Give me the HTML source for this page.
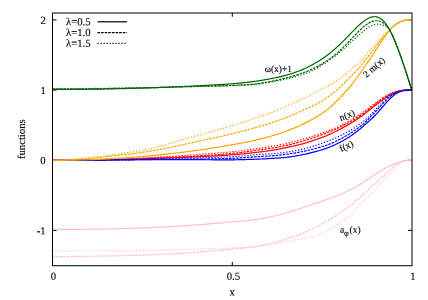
<!DOCTYPE html>
<html><head><meta charset="utf-8"><style>
html,body{margin:0;padding:0;background:#fff;}
svg{display:block;will-change:transform;}
text{font-family:"Liberation Serif",serif;fill:#000;stroke:#000;stroke-width:0.12px;text-rendering:geometricPrecision;}
</style></head><body>
<svg width="428" height="300" viewBox="0 0 428 300">
<rect width="428" height="300" fill="#fff"/>
<g stroke="#000" stroke-width="1" fill="none">
<path d="M52.5,19.9h4M412,19.9h-4M52.5,90.1h4M412,90.1h-4M52.5,160.3h4M412,160.3h-4M52.5,230.4h4M412,230.4h-4"/>
<path d="M232.3,265.7v-3.7M232.3,13v3.8"/>
</g>
<g fill="none" stroke-width="1.2" stroke-linecap="butt" stroke-linejoin="round">
<path d="M52.5,160.32 L53.5,160.32 L54.5,160.31 L55.5,160.31 L56.5,160.31 L57.5,160.31 L58.5,160.30 L59.5,160.30 L60.5,160.29 L61.5,160.29 L62.5,160.28 L63.5,160.28 L64.5,160.27 L65.5,160.27 L66.5,160.26 L67.5,160.26 L68.5,160.25 L69.5,160.24 L70.5,160.24 L71.5,160.23 L72.5,160.22 L73.5,160.21 L74.5,160.20 L75.5,160.20 L76.5,160.19 L77.5,160.18 L78.5,160.17 L79.5,160.16 L80.5,160.15 L81.5,160.14 L82.5,160.13 L83.5,160.11 L84.5,160.10 L85.5,160.09 L86.5,160.08 L87.5,160.07 L88.5,160.05 L89.5,160.04 L90.5,160.03 L91.5,160.01 L92.5,160.00 L93.5,159.98 L94.5,159.97 L95.5,159.95 L96.5,159.94 L97.5,159.92 L98.5,159.90 L99.5,159.89 L100.5,159.87 L101.5,159.85 L102.5,159.84 L103.5,159.82 L104.5,159.80 L105.5,159.78 L106.5,159.76 L107.5,159.74 L108.5,159.72 L109.5,159.70 L110.5,159.68 L111.5,159.66 L112.5,159.64 L113.5,159.62 L114.5,159.60 L115.5,159.57 L116.5,159.55 L117.5,159.53 L118.5,159.50 L119.5,159.48 L120.5,159.45 L121.5,159.43 L122.5,159.41 L123.5,159.38 L124.5,159.35 L125.5,159.33 L126.5,159.30 L127.5,159.27 L128.5,159.25 L129.5,159.22 L130.5,159.19 L131.5,159.16 L132.5,159.13 L133.5,159.10 L134.5,159.07 L135.5,159.04 L136.5,159.01 L137.5,158.98 L138.5,158.95 L139.5,158.92 L140.5,158.89 L141.5,158.86 L142.5,158.82 L143.5,158.79 L144.5,158.76 L145.5,158.72 L146.5,158.69 L147.5,158.65 L148.5,158.62 L149.5,158.58 L150.5,158.54 L151.5,158.51 L152.5,158.47 L153.5,158.44 L154.5,158.40 L155.5,158.37 L156.5,158.33 L157.5,158.30 L158.5,158.27 L159.5,158.23 L160.5,158.20 L161.5,158.17 L162.5,158.13 L163.5,158.10 L164.5,158.07 L165.5,158.03 L166.5,158.00 L167.5,157.97 L168.5,157.93 L169.5,157.90 L170.5,157.87 L171.5,157.83 L172.5,157.80 L173.5,157.76 L174.5,157.73 L175.5,157.70 L176.5,157.66 L177.5,157.63 L178.5,157.59 L179.5,157.55 L180.5,157.52 L181.5,157.48 L182.5,157.45 L183.5,157.41 L184.5,157.37 L185.5,157.33 L186.5,157.29 L187.5,157.25 L188.5,157.21 L189.5,157.17 L190.5,157.13 L191.5,157.09 L192.5,157.05 L193.5,157.01 L194.5,156.96 L195.5,156.92 L196.5,156.87 L197.5,156.83 L198.5,156.78 L199.5,156.73 L200.5,156.68 L201.5,156.64 L202.5,156.59 L203.5,156.54 L204.5,156.49 L205.5,156.44 L206.5,156.39 L207.5,156.34 L208.5,156.29 L209.5,156.25 L210.5,156.20 L211.5,156.14 L212.5,156.09 L213.5,156.04 L214.5,155.99 L215.5,155.94 L216.5,155.88 L217.5,155.83 L218.5,155.77 L219.5,155.71 L220.5,155.65 L221.5,155.59 L222.5,155.53 L223.5,155.47 L224.5,155.41 L225.5,155.34 L226.5,155.28 L227.5,155.21 L228.5,155.14 L229.5,155.06 L230.5,154.99 L231.5,154.91 L232.5,154.83 L233.5,154.75 L234.5,154.67 L235.5,154.58 L236.5,154.49 L237.5,154.39 L238.5,154.30 L239.5,154.20 L240.5,154.10 L241.5,154.00 L242.5,153.89 L243.5,153.79 L244.5,153.68 L245.5,153.58 L246.5,153.47 L247.5,153.36 L248.5,153.25 L249.5,153.14 L250.5,153.03 L251.5,152.92 L252.5,152.81 L253.5,152.70 L254.5,152.59 L255.5,152.48 L256.5,152.37 L257.5,152.26 L258.5,152.14 L259.5,152.02 L260.5,151.90 L261.5,151.78 L262.5,151.65 L263.5,151.52 L264.5,151.39 L265.5,151.25 L266.5,151.11 L267.5,150.97 L268.5,150.82 L269.5,150.68 L270.5,150.52 L271.5,150.37 L272.5,150.21 L273.5,150.05 L274.5,149.88 L275.5,149.71 L276.5,149.54 L277.5,149.36 L278.5,149.18 L279.5,148.99 L280.5,148.80 L281.5,148.61 L282.5,148.41 L283.5,148.21 L284.5,148.00 L285.5,147.79 L286.5,147.57 L287.5,147.35 L288.5,147.13 L289.5,146.90 L290.5,146.67 L291.5,146.44 L292.5,146.23 L293.5,146.02 L294.5,145.82 L295.5,145.61 L296.5,145.40 L297.5,145.18 L298.5,144.95 L299.5,144.71 L300.5,144.45 L301.5,144.19 L302.5,143.91 L303.5,143.63 L304.5,143.34 L305.5,143.04 L306.5,142.73 L307.5,142.42 L308.5,142.10 L309.5,141.78 L310.5,141.44 L311.5,141.11 L312.5,140.77 L313.5,140.42 L314.5,140.06 L315.5,139.71 L316.5,139.34 L317.5,138.98 L318.5,138.61 L319.5,138.23 L320.5,137.86 L321.5,137.51 L322.5,137.16 L323.5,136.82 L324.5,136.46 L325.5,136.07 L326.5,135.66 L327.5,135.23 L328.5,134.80 L329.5,134.35 L330.5,133.90 L331.5,133.44 L332.5,132.97 L333.5,132.49 L334.5,132.01 L335.5,131.51 L336.5,131.02 L337.5,130.51 L338.5,130.00 L339.5,129.48 L340.5,128.96 L341.5,128.43 L342.5,127.90 L343.5,127.36 L344.5,126.81 L345.5,126.25 L346.5,125.69 L347.5,125.12 L348.5,124.55 L349.5,123.96 L350.5,123.37 L351.5,122.77 L352.5,122.15 L353.5,121.52 L354.5,120.88 L355.5,120.22 L356.5,119.56 L357.5,118.89 L358.5,118.22 L359.5,117.53 L360.5,116.84 L361.5,116.14 L362.5,115.42 L363.5,114.68 L364.5,113.93 L365.5,113.16 L366.5,112.39 L367.5,111.61 L368.5,110.83 L369.5,110.04 L370.5,109.25 L371.5,108.46 L372.5,107.68 L373.5,106.89 L374.5,106.12 L375.5,105.35 L376.5,104.57 L377.5,103.79 L378.5,103.01 L379.5,102.24 L380.5,101.46 L381.5,100.70 L382.5,99.94 L383.5,99.20 L384.5,98.47 L385.5,97.77 L386.5,97.08 L387.5,96.42 L388.5,95.78 L389.5,95.17 L390.5,94.60 L391.5,94.05 L392.5,93.53 L393.5,93.04 L394.5,92.59 L395.5,92.18 L396.5,91.80 L397.5,91.47 L398.5,91.18 L399.5,90.92 L400.5,90.70 L401.5,90.52 L402.5,90.37 L403.5,90.24 L404.5,90.14 L405.5,90.06 L406.5,90.01 L407.5,89.97 L408.5,89.95 L409.5,89.94 L410.5,89.94 L411.5,89.95 L411.8,89.95" stroke="#ff0000"/>
<path d="M52.5,160.32 L53.5,160.32 L54.5,160.31 L55.5,160.31 L56.5,160.31 L57.5,160.30 L58.5,160.30 L59.5,160.30 L60.5,160.29 L61.5,160.29 L62.5,160.28 L63.5,160.28 L64.5,160.27 L65.5,160.26 L66.5,160.26 L67.5,160.25 L68.5,160.24 L69.5,160.24 L70.5,160.23 L71.5,160.22 L72.5,160.21 L73.5,160.20 L74.5,160.19 L75.5,160.18 L76.5,160.17 L77.5,160.16 L78.5,160.15 L79.5,160.14 L80.5,160.13 L81.5,160.12 L82.5,160.11 L83.5,160.09 L84.5,160.08 L85.5,160.07 L86.5,160.05 L87.5,160.04 L88.5,160.03 L89.5,160.01 L90.5,160.00 L91.5,159.98 L92.5,159.96 L93.5,159.95 L94.5,159.93 L95.5,159.91 L96.5,159.90 L97.5,159.88 L98.5,159.86 L99.5,159.84 L100.5,159.82 L101.5,159.81 L102.5,159.79 L103.5,159.77 L104.5,159.75 L105.5,159.72 L106.5,159.70 L107.5,159.68 L108.5,159.66 L109.5,159.64 L110.5,159.62 L111.5,159.59 L112.5,159.57 L113.5,159.54 L114.5,159.52 L115.5,159.49 L116.5,159.46 L117.5,159.44 L118.5,159.41 L119.5,159.38 L120.5,159.35 L121.5,159.32 L122.5,159.29 L123.5,159.26 L124.5,159.23 L125.5,159.19 L126.5,159.16 L127.5,159.12 L128.5,159.09 L129.5,159.05 L130.5,159.02 L131.5,158.98 L132.5,158.94 L133.5,158.91 L134.5,158.87 L135.5,158.83 L136.5,158.79 L137.5,158.75 L138.5,158.71 L139.5,158.67 L140.5,158.63 L141.5,158.58 L142.5,158.54 L143.5,158.50 L144.5,158.45 L145.5,158.41 L146.5,158.36 L147.5,158.32 L148.5,158.27 L149.5,158.23 L150.5,158.18 L151.5,158.13 L152.5,158.09 L153.5,158.04 L154.5,157.99 L155.5,157.95 L156.5,157.90 L157.5,157.86 L158.5,157.81 L159.5,157.77 L160.5,157.72 L161.5,157.68 L162.5,157.64 L163.5,157.59 L164.5,157.55 L165.5,157.50 L166.5,157.46 L167.5,157.42 L168.5,157.37 L169.5,157.33 L170.5,157.28 L171.5,157.24 L172.5,157.19 L173.5,157.15 L174.5,157.11 L175.5,157.06 L176.5,157.02 L177.5,156.97 L178.5,156.92 L179.5,156.88 L180.5,156.83 L181.5,156.78 L182.5,156.73 L183.5,156.69 L184.5,156.64 L185.5,156.59 L186.5,156.54 L187.5,156.49 L188.5,156.43 L189.5,156.38 L190.5,156.33 L191.5,156.28 L192.5,156.22 L193.5,156.17 L194.5,156.11 L195.5,156.05 L196.5,156.00 L197.5,155.94 L198.5,155.88 L199.5,155.82 L200.5,155.76 L201.5,155.69 L202.5,155.63 L203.5,155.57 L204.5,155.51 L205.5,155.45 L206.5,155.39 L207.5,155.32 L208.5,155.26 L209.5,155.20 L210.5,155.13 L211.5,155.07 L212.5,155.00 L213.5,154.94 L214.5,154.87 L215.5,154.80 L216.5,154.73 L217.5,154.66 L218.5,154.59 L219.5,154.52 L220.5,154.44 L221.5,154.37 L222.5,154.29 L223.5,154.21 L224.5,154.13 L225.5,154.05 L226.5,153.97 L227.5,153.88 L228.5,153.79 L229.5,153.71 L230.5,153.61 L231.5,153.52 L232.5,153.42 L233.5,153.31 L234.5,153.21 L235.5,153.09 L236.5,152.98 L237.5,152.86 L238.5,152.74 L239.5,152.61 L240.5,152.49 L241.5,152.36 L242.5,152.23 L243.5,152.10 L244.5,151.97 L245.5,151.83 L246.5,151.70 L247.5,151.56 L248.5,151.43 L249.5,151.29 L250.5,151.16 L251.5,151.02 L252.5,150.89 L253.5,150.76 L254.5,150.63 L255.5,150.50 L256.5,150.37 L257.5,150.24 L258.5,150.10 L259.5,149.97 L260.5,149.84 L261.5,149.70 L262.5,149.56 L263.5,149.42 L264.5,149.28 L265.5,149.13 L266.5,148.98 L267.5,148.83 L268.5,148.68 L269.5,148.52 L270.5,148.36 L271.5,148.20 L272.5,148.03 L273.5,147.86 L274.5,147.69 L275.5,147.51 L276.5,147.33 L277.5,147.15 L278.5,146.96 L279.5,146.77 L280.5,146.57 L281.5,146.37 L282.5,146.16 L283.5,145.96 L284.5,145.74 L285.5,145.53 L286.5,145.31 L287.5,145.08 L288.5,144.86 L289.5,144.62 L290.5,144.38 L291.5,144.14 L292.5,143.89 L293.5,143.64 L294.5,143.39 L295.5,143.12 L296.5,142.86 L297.5,142.58 L298.5,142.31 L299.5,142.02 L300.5,141.73 L301.5,141.44 L302.5,141.14 L303.5,140.83 L304.5,140.53 L305.5,140.21 L306.5,139.90 L307.5,139.58 L308.5,139.26 L309.5,138.94 L310.5,138.61 L311.5,138.28 L312.5,137.95 L313.5,137.62 L314.5,137.29 L315.5,136.95 L316.5,136.61 L317.5,136.26 L318.5,135.91 L319.5,135.55 L320.5,135.19 L321.5,134.83 L322.5,134.47 L323.5,134.12 L324.5,133.75 L325.5,133.37 L326.5,132.97 L327.5,132.57 L328.5,132.16 L329.5,131.75 L330.5,131.35 L331.5,130.94 L332.5,130.53 L333.5,130.11 L334.5,129.69 L335.5,129.25 L336.5,128.80 L337.5,128.33 L338.5,127.86 L339.5,127.37 L340.5,126.88 L341.5,126.38 L342.5,125.87 L343.5,125.36 L344.5,124.85 L345.5,124.33 L346.5,123.80 L347.5,123.27 L348.5,122.72 L349.5,122.17 L350.5,121.61 L351.5,121.04 L352.5,120.46 L353.5,119.86 L354.5,119.24 L355.5,118.62 L356.5,117.98 L357.5,117.34 L358.5,116.68 L359.5,116.01 L360.5,115.33 L361.5,114.62 L362.5,113.90 L363.5,113.17 L364.5,112.41 L365.5,111.64 L366.5,110.85 L367.5,110.05 L368.5,109.27 L369.5,108.49 L370.5,107.71 L371.5,106.93 L372.5,106.16 L373.5,105.39 L374.5,104.62 L375.5,103.86 L376.5,103.09 L377.5,102.33 L378.5,101.59 L379.5,100.86 L380.5,100.13 L381.5,99.42 L382.5,98.72 L383.5,98.04 L384.5,97.37 L385.5,96.72 L386.5,96.11 L387.5,95.52 L388.5,94.96 L389.5,94.44 L390.5,93.96 L391.5,93.53 L392.5,93.14 L393.5,92.75 L394.5,92.36 L395.5,92.00 L396.5,91.67 L397.5,91.38 L398.5,91.13 L399.5,90.91 L400.5,90.70 L401.5,90.52 L402.5,90.37 L403.5,90.24 L404.5,90.14 L405.5,90.06 L406.5,90.01 L407.5,89.97 L408.5,89.95 L409.5,89.94 L410.5,89.94 L411.5,89.95 L411.8,89.95" stroke="#ff0000" stroke-dasharray="2.6 1"/>
<path d="M52.5,160.32 L53.5,160.31 L54.5,160.30 L55.5,160.30 L56.5,160.29 L57.5,160.28 L58.5,160.27 L59.5,160.26 L60.5,160.25 L61.5,160.24 L62.5,160.23 L63.5,160.22 L64.5,160.20 L65.5,160.19 L66.5,160.18 L67.5,160.17 L68.5,160.15 L69.5,160.14 L70.5,160.13 L71.5,160.11 L72.5,160.10 L73.5,160.08 L74.5,160.06 L75.5,160.05 L76.5,160.03 L77.5,160.01 L78.5,160.00 L79.5,159.98 L80.5,159.96 L81.5,159.94 L82.5,159.92 L83.5,159.91 L84.5,159.89 L85.5,159.87 L86.5,159.85 L87.5,159.83 L88.5,159.80 L89.5,159.78 L90.5,159.76 L91.5,159.74 L92.5,159.72 L93.5,159.69 L94.5,159.67 L95.5,159.65 L96.5,159.62 L97.5,159.60 L98.5,159.57 L99.5,159.55 L100.5,159.52 L101.5,159.50 L102.5,159.47 L103.5,159.45 L104.5,159.42 L105.5,159.39 L106.5,159.37 L107.5,159.34 L108.5,159.31 L109.5,159.28 L110.5,159.25 L111.5,159.22 L112.5,159.19 L113.5,159.16 L114.5,159.13 L115.5,159.10 L116.5,159.07 L117.5,159.03 L118.5,159.00 L119.5,158.96 L120.5,158.93 L121.5,158.89 L122.5,158.85 L123.5,158.81 L124.5,158.78 L125.5,158.74 L126.5,158.70 L127.5,158.66 L128.5,158.61 L129.5,158.57 L130.5,158.53 L131.5,158.49 L132.5,158.44 L133.5,158.40 L134.5,158.35 L135.5,158.31 L136.5,158.26 L137.5,158.22 L138.5,158.17 L139.5,158.12 L140.5,158.07 L141.5,158.03 L142.5,157.98 L143.5,157.93 L144.5,157.88 L145.5,157.83 L146.5,157.78 L147.5,157.72 L148.5,157.67 L149.5,157.62 L150.5,157.57 L151.5,157.51 L152.5,157.46 L153.5,157.41 L154.5,157.35 L155.5,157.30 L156.5,157.24 L157.5,157.18 L158.5,157.13 L159.5,157.07 L160.5,157.01 L161.5,156.96 L162.5,156.90 L163.5,156.84 L164.5,156.78 L165.5,156.72 L166.5,156.66 L167.5,156.60 L168.5,156.54 L169.5,156.48 L170.5,156.42 L171.5,156.35 L172.5,156.29 L173.5,156.23 L174.5,156.17 L175.5,156.10 L176.5,156.04 L177.5,155.97 L178.5,155.91 L179.5,155.84 L180.5,155.77 L181.5,155.71 L182.5,155.64 L183.5,155.57 L184.5,155.50 L185.5,155.43 L186.5,155.36 L187.5,155.29 L188.5,155.22 L189.5,155.15 L190.5,155.07 L191.5,155.00 L192.5,154.93 L193.5,154.85 L194.5,154.78 L195.5,154.70 L196.5,154.62 L197.5,154.55 L198.5,154.47 L199.5,154.39 L200.5,154.31 L201.5,154.23 L202.5,154.16 L203.5,154.08 L204.5,154.01 L205.5,153.93 L206.5,153.86 L207.5,153.79 L208.5,153.71 L209.5,153.64 L210.5,153.57 L211.5,153.50 L212.5,153.42 L213.5,153.35 L214.5,153.28 L215.5,153.20 L216.5,153.13 L217.5,153.05 L218.5,152.97 L219.5,152.89 L220.5,152.81 L221.5,152.73 L222.5,152.65 L223.5,152.56 L224.5,152.48 L225.5,152.39 L226.5,152.30 L227.5,152.20 L228.5,152.11 L229.5,152.01 L230.5,151.91 L231.5,151.81 L232.5,151.70 L233.5,151.59 L234.5,151.48 L235.5,151.37 L236.5,151.25 L237.5,151.14 L238.5,151.02 L239.5,150.89 L240.5,150.77 L241.5,150.65 L242.5,150.52 L243.5,150.39 L244.5,150.26 L245.5,150.13 L246.5,150.00 L247.5,149.86 L248.5,149.73 L249.5,149.59 L250.5,149.45 L251.5,149.32 L252.5,149.18 L253.5,149.04 L254.5,148.89 L255.5,148.75 L256.5,148.61 L257.5,148.47 L258.5,148.32 L259.5,148.18 L260.5,148.04 L261.5,147.89 L262.5,147.75 L263.5,147.60 L264.5,147.45 L265.5,147.30 L266.5,147.15 L267.5,146.99 L268.5,146.83 L269.5,146.67 L270.5,146.51 L271.5,146.34 L272.5,146.17 L273.5,146.00 L274.5,145.82 L275.5,145.64 L276.5,145.46 L277.5,145.27 L278.5,145.08 L279.5,144.89 L280.5,144.69 L281.5,144.48 L282.5,144.28 L283.5,144.06 L284.5,143.85 L285.5,143.63 L286.5,143.40 L287.5,143.17 L288.5,142.94 L289.5,142.70 L290.5,142.45 L291.5,142.20 L292.5,141.95 L293.5,141.69 L294.5,141.42 L295.5,141.16 L296.5,140.88 L297.5,140.61 L298.5,140.32 L299.5,140.04 L300.5,139.75 L301.5,139.47 L302.5,139.18 L303.5,138.88 L304.5,138.59 L305.5,138.30 L306.5,138.00 L307.5,137.70 L308.5,137.40 L309.5,137.10 L310.5,136.80 L311.5,136.49 L312.5,136.19 L313.5,135.88 L314.5,135.57 L315.5,135.25 L316.5,134.93 L317.5,134.61 L318.5,134.28 L319.5,133.95 L320.5,133.61 L321.5,133.27 L322.5,132.95 L323.5,132.62 L324.5,132.27 L325.5,131.92 L326.5,131.54 L327.5,131.15 L328.5,130.76 L329.5,130.38 L330.5,129.99 L331.5,129.61 L332.5,129.22 L333.5,128.82 L334.5,128.41 L335.5,127.99 L336.5,127.55 L337.5,127.09 L338.5,126.62 L339.5,126.14 L340.5,125.64 L341.5,125.13 L342.5,124.62 L343.5,124.10 L344.5,123.58 L345.5,123.04 L346.5,122.50 L347.5,121.95 L348.5,121.38 L349.5,120.81 L350.5,120.23 L351.5,119.64 L352.5,119.03 L353.5,118.41 L354.5,117.78 L355.5,117.15 L356.5,116.51 L357.5,115.87 L358.5,115.22 L359.5,114.57 L360.5,113.92 L361.5,113.27 L362.5,112.61 L363.5,111.90 L364.5,111.16 L365.5,110.41 L366.5,109.66 L367.5,108.90 L368.5,108.14 L369.5,107.38 L370.5,106.62 L371.5,105.87 L372.5,105.12 L373.5,104.38 L374.5,103.64 L375.5,102.90 L376.5,102.17 L377.5,101.44 L378.5,100.73 L379.5,100.03 L380.5,99.35 L381.5,98.68 L382.5,98.02 L383.5,97.37 L384.5,96.74 L385.5,96.14 L386.5,95.56 L387.5,95.02 L388.5,94.51 L389.5,94.04 L390.5,93.62 L391.5,93.28 L392.5,92.98 L393.5,92.65 L394.5,92.30 L395.5,91.97 L396.5,91.66 L397.5,91.38 L398.5,91.13 L399.5,90.91 L400.5,90.70 L401.5,90.52 L402.5,90.37 L403.5,90.24 L404.5,90.14 L405.5,90.06 L406.5,90.01 L407.5,89.97 L408.5,89.95 L409.5,89.94 L410.5,89.94 L411.5,89.95 L411.8,89.95" stroke="#ff0000" stroke-dasharray="1.2 1.8"/>
<path d="M52.5,160.34 L53.5,160.34 L54.5,160.34 L55.5,160.33 L56.5,160.33 L57.5,160.33 L58.5,160.32 L59.5,160.32 L60.5,160.31 L61.5,160.31 L62.5,160.31 L63.5,160.30 L64.5,160.30 L65.5,160.29 L66.5,160.29 L67.5,160.28 L68.5,160.28 L69.5,160.27 L70.5,160.27 L71.5,160.26 L72.5,160.26 L73.5,160.25 L74.5,160.25 L75.5,160.24 L76.5,160.23 L77.5,160.23 L78.5,160.22 L79.5,160.22 L80.5,160.21 L81.5,160.20 L82.5,160.20 L83.5,160.19 L84.5,160.18 L85.5,160.18 L86.5,160.17 L87.5,160.16 L88.5,160.16 L89.5,160.15 L90.5,160.14 L91.5,160.14 L92.5,160.13 L93.5,160.12 L94.5,160.11 L95.5,160.11 L96.5,160.10 L97.5,160.09 L98.5,160.08 L99.5,160.08 L100.5,160.07 L101.5,160.06 L102.5,160.05 L103.5,160.05 L104.5,160.04 L105.5,160.03 L106.5,160.02 L107.5,160.01 L108.5,160.01 L109.5,160.00 L110.5,159.99 L111.5,159.98 L112.5,159.97 L113.5,159.96 L114.5,159.96 L115.5,159.95 L116.5,159.94 L117.5,159.93 L118.5,159.92 L119.5,159.91 L120.5,159.91 L121.5,159.90 L122.5,159.89 L123.5,159.88 L124.5,159.87 L125.5,159.86 L126.5,159.85 L127.5,159.84 L128.5,159.83 L129.5,159.83 L130.5,159.82 L131.5,159.81 L132.5,159.80 L133.5,159.79 L134.5,159.78 L135.5,159.77 L136.5,159.76 L137.5,159.75 L138.5,159.74 L139.5,159.74 L140.5,159.73 L141.5,159.72 L142.5,159.71 L143.5,159.70 L144.5,159.69 L145.5,159.68 L146.5,159.67 L147.5,159.66 L148.5,159.65 L149.5,159.64 L150.5,159.63 L151.5,159.63 L152.5,159.62 L153.5,159.61 L154.5,159.61 L155.5,159.60 L156.5,159.60 L157.5,159.59 L158.5,159.59 L159.5,159.59 L160.5,159.58 L161.5,159.58 L162.5,159.58 L163.5,159.58 L164.5,159.58 L165.5,159.58 L166.5,159.58 L167.5,159.58 L168.5,159.58 L169.5,159.59 L170.5,159.59 L171.5,159.59 L172.5,159.59 L173.5,159.60 L174.5,159.60 L175.5,159.60 L176.5,159.61 L177.5,159.61 L178.5,159.62 L179.5,159.62 L180.5,159.63 L181.5,159.63 L182.5,159.64 L183.5,159.64 L184.5,159.65 L185.5,159.65 L186.5,159.66 L187.5,159.66 L188.5,159.66 L189.5,159.67 L190.5,159.67 L191.5,159.68 L192.5,159.68 L193.5,159.69 L194.5,159.69 L195.5,159.70 L196.5,159.70 L197.5,159.70 L198.5,159.71 L199.5,159.71 L200.5,159.71 L201.5,159.72 L202.5,159.72 L203.5,159.72 L204.5,159.73 L205.5,159.73 L206.5,159.74 L207.5,159.75 L208.5,159.75 L209.5,159.76 L210.5,159.77 L211.5,159.77 L212.5,159.78 L213.5,159.79 L214.5,159.79 L215.5,159.80 L216.5,159.80 L217.5,159.81 L218.5,159.81 L219.5,159.82 L220.5,159.82 L221.5,159.83 L222.5,159.83 L223.5,159.83 L224.5,159.83 L225.5,159.83 L226.5,159.83 L227.5,159.83 L228.5,159.83 L229.5,159.83 L230.5,159.82 L231.5,159.81 L232.5,159.80 L233.5,159.79 L234.5,159.78 L235.5,159.77 L236.5,159.75 L237.5,159.73 L238.5,159.71 L239.5,159.69 L240.5,159.67 L241.5,159.65 L242.5,159.62 L243.5,159.60 L244.5,159.57 L245.5,159.54 L246.5,159.51 L247.5,159.48 L248.5,159.45 L249.5,159.42 L250.5,159.39 L251.5,159.36 L252.5,159.33 L253.5,159.29 L254.5,159.26 L255.5,159.22 L256.5,159.19 L257.5,159.15 L258.5,159.11 L259.5,159.07 L260.5,159.02 L261.5,158.98 L262.5,158.93 L263.5,158.88 L264.5,158.83 L265.5,158.78 L266.5,158.72 L267.5,158.67 L268.5,158.61 L269.5,158.55 L270.5,158.49 L271.5,158.43 L272.5,158.37 L273.5,158.31 L274.5,158.25 L275.5,158.19 L276.5,158.12 L277.5,158.05 L278.5,157.98 L279.5,157.91 L280.5,157.83 L281.5,157.75 L282.5,157.66 L283.5,157.57 L284.5,157.48 L285.5,157.38 L286.5,157.27 L287.5,157.16 L288.5,157.04 L289.5,156.92 L290.5,156.79 L291.5,156.65 L292.5,156.50 L293.5,156.34 L294.5,156.18 L295.5,156.01 L296.5,155.83 L297.5,155.65 L298.5,155.47 L299.5,155.27 L300.5,155.08 L301.5,154.88 L302.5,154.67 L303.5,154.46 L304.5,154.25 L305.5,154.04 L306.5,153.82 L307.5,153.60 L308.5,153.37 L309.5,153.14 L310.5,152.90 L311.5,152.66 L312.5,152.41 L313.5,152.16 L314.5,151.90 L315.5,151.63 L316.5,151.36 L317.5,151.08 L318.5,150.79 L319.5,150.50 L320.5,150.20 L321.5,149.89 L322.5,149.58 L323.5,149.25 L324.5,148.92 L325.5,148.58 L326.5,148.23 L327.5,147.87 L328.5,147.49 L329.5,147.10 L330.5,146.71 L331.5,146.29 L332.5,145.87 L333.5,145.44 L334.5,144.99 L335.5,144.53 L336.5,144.05 L337.5,143.57 L338.5,143.07 L339.5,142.56 L340.5,142.04 L341.5,141.50 L342.5,140.96 L343.5,140.40 L344.5,139.82 L345.5,139.24 L346.5,138.64 L347.5,138.02 L348.5,137.39 L349.5,136.74 L350.5,136.08 L351.5,135.40 L352.5,134.71 L353.5,134.00 L354.5,133.28 L355.5,132.54 L356.5,131.78 L357.5,131.01 L358.5,130.22 L359.5,129.41 L360.5,128.59 L361.5,127.75 L362.5,126.89 L363.5,126.03 L364.5,125.15 L365.5,124.25 L366.5,123.35 L367.5,122.45 L368.5,121.56 L369.5,120.67 L370.5,119.77 L371.5,118.86 L372.5,117.94 L373.5,116.98 L374.5,116.00 L375.5,114.98 L376.5,113.92 L377.5,112.82 L378.5,111.67 L379.5,110.51 L380.5,109.34 L381.5,108.17 L382.5,107.00 L383.5,105.84 L384.5,104.69 L385.5,103.56 L386.5,102.44 L387.5,101.36 L388.5,100.30 L389.5,99.27 L390.5,98.29 L391.5,97.35 L392.5,96.45 L393.5,95.61 L394.5,94.82 L395.5,94.10 L396.5,93.44 L397.5,92.85 L398.5,92.33 L399.5,91.88 L400.5,91.49 L401.5,91.16 L402.5,90.88 L403.5,90.65 L404.5,90.46 L405.5,90.31 L406.5,90.20 L407.5,90.11 L408.5,90.05 L409.5,90.01 L410.5,89.98 L411.5,89.97 L411.8,89.97" stroke="#0000ff"/>
<path d="M52.5,160.34 L53.5,160.34 L54.5,160.34 L55.5,160.33 L56.5,160.33 L57.5,160.33 L58.5,160.32 L59.5,160.32 L60.5,160.31 L61.5,160.31 L62.5,160.31 L63.5,160.30 L64.5,160.30 L65.5,160.29 L66.5,160.29 L67.5,160.28 L68.5,160.28 L69.5,160.27 L70.5,160.27 L71.5,160.26 L72.5,160.26 L73.5,160.25 L74.5,160.25 L75.5,160.24 L76.5,160.23 L77.5,160.23 L78.5,160.22 L79.5,160.22 L80.5,160.21 L81.5,160.20 L82.5,160.20 L83.5,160.19 L84.5,160.18 L85.5,160.18 L86.5,160.17 L87.5,160.16 L88.5,160.16 L89.5,160.15 L90.5,160.14 L91.5,160.14 L92.5,160.13 L93.5,160.12 L94.5,160.11 L95.5,160.11 L96.5,160.10 L97.5,160.09 L98.5,160.08 L99.5,160.08 L100.5,160.07 L101.5,160.06 L102.5,160.05 L103.5,160.05 L104.5,160.04 L105.5,160.03 L106.5,160.02 L107.5,160.01 L108.5,160.01 L109.5,160.00 L110.5,159.99 L111.5,159.98 L112.5,159.97 L113.5,159.96 L114.5,159.96 L115.5,159.95 L116.5,159.94 L117.5,159.93 L118.5,159.92 L119.5,159.91 L120.5,159.90 L121.5,159.89 L122.5,159.88 L123.5,159.87 L124.5,159.86 L125.5,159.84 L126.5,159.83 L127.5,159.82 L128.5,159.81 L129.5,159.80 L130.5,159.79 L131.5,159.78 L132.5,159.76 L133.5,159.75 L134.5,159.74 L135.5,159.73 L136.5,159.71 L137.5,159.70 L138.5,159.69 L139.5,159.68 L140.5,159.66 L141.5,159.65 L142.5,159.64 L143.5,159.62 L144.5,159.61 L145.5,159.60 L146.5,159.58 L147.5,159.57 L148.5,159.56 L149.5,159.54 L150.5,159.53 L151.5,159.52 L152.5,159.50 L153.5,159.49 L154.5,159.48 L155.5,159.47 L156.5,159.46 L157.5,159.45 L158.5,159.44 L159.5,159.43 L160.5,159.43 L161.5,159.42 L162.5,159.41 L163.5,159.41 L164.5,159.40 L165.5,159.40 L166.5,159.39 L167.5,159.39 L168.5,159.38 L169.5,159.38 L170.5,159.37 L171.5,159.37 L172.5,159.37 L173.5,159.36 L174.5,159.36 L175.5,159.35 L176.5,159.35 L177.5,159.34 L178.5,159.33 L179.5,159.33 L180.5,159.32 L181.5,159.31 L182.5,159.31 L183.5,159.30 L184.5,159.29 L185.5,159.28 L186.5,159.27 L187.5,159.26 L188.5,159.25 L189.5,159.24 L190.5,159.22 L191.5,159.21 L192.5,159.20 L193.5,159.18 L194.5,159.17 L195.5,159.16 L196.5,159.14 L197.5,159.12 L198.5,159.11 L199.5,159.09 L200.5,159.07 L201.5,159.05 L202.5,159.04 L203.5,159.02 L204.5,159.00 L205.5,158.98 L206.5,158.97 L207.5,158.95 L208.5,158.93 L209.5,158.92 L210.5,158.90 L211.5,158.88 L212.5,158.86 L213.5,158.85 L214.5,158.83 L215.5,158.81 L216.5,158.79 L217.5,158.77 L218.5,158.75 L219.5,158.73 L220.5,158.71 L221.5,158.68 L222.5,158.66 L223.5,158.63 L224.5,158.61 L225.5,158.58 L226.5,158.55 L227.5,158.53 L228.5,158.50 L229.5,158.47 L230.5,158.43 L231.5,158.39 L232.5,158.35 L233.5,158.31 L234.5,158.25 L235.5,158.20 L236.5,158.14 L237.5,158.08 L238.5,158.01 L239.5,157.94 L240.5,157.87 L241.5,157.80 L242.5,157.73 L243.5,157.65 L244.5,157.58 L245.5,157.50 L246.5,157.42 L247.5,157.35 L248.5,157.27 L249.5,157.19 L250.5,157.12 L251.5,157.05 L252.5,156.97 L253.5,156.90 L254.5,156.84 L255.5,156.77 L256.5,156.71 L257.5,156.65 L258.5,156.60 L259.5,156.54 L260.5,156.49 L261.5,156.44 L262.5,156.39 L263.5,156.34 L264.5,156.29 L265.5,156.24 L266.5,156.18 L267.5,156.12 L268.5,156.05 L269.5,155.99 L270.5,155.91 L271.5,155.84 L272.5,155.76 L273.5,155.67 L274.5,155.59 L275.5,155.50 L276.5,155.40 L277.5,155.31 L278.5,155.21 L279.5,155.10 L280.5,155.00 L281.5,154.88 L282.5,154.77 L283.5,154.65 L284.5,154.52 L285.5,154.39 L286.5,154.26 L287.5,154.12 L288.5,153.98 L289.5,153.84 L290.5,153.68 L291.5,153.53 L292.5,153.37 L293.5,153.21 L294.5,153.04 L295.5,152.87 L296.5,152.69 L297.5,152.51 L298.5,152.33 L299.5,152.14 L300.5,151.95 L301.5,151.75 L302.5,151.55 L303.5,151.34 L304.5,151.13 L305.5,150.92 L306.5,150.70 L307.5,150.48 L308.5,150.25 L309.5,150.01 L310.5,149.77 L311.5,149.52 L312.5,149.27 L313.5,149.01 L314.5,148.75 L315.5,148.49 L316.5,148.21 L317.5,147.94 L318.5,147.65 L319.5,147.37 L320.5,147.08 L321.5,146.79 L322.5,146.50 L323.5,146.20 L324.5,145.90 L325.5,145.57 L326.5,145.23 L327.5,144.87 L328.5,144.51 L329.5,144.13 L330.5,143.74 L331.5,143.34 L332.5,142.92 L333.5,142.49 L334.5,142.04 L335.5,141.57 L336.5,141.06 L337.5,140.53 L338.5,139.99 L339.5,139.47 L340.5,138.97 L341.5,138.45 L342.5,137.91 L343.5,137.35 L344.5,136.79 L345.5,136.22 L346.5,135.64 L347.5,135.05 L348.5,134.45 L349.5,133.83 L350.5,133.20 L351.5,132.56 L352.5,131.90 L353.5,131.24 L354.5,130.56 L355.5,129.87 L356.5,129.17 L357.5,128.45 L358.5,127.71 L359.5,126.96 L360.5,126.20 L361.5,125.45 L362.5,124.69 L363.5,123.86 L364.5,122.96 L365.5,122.02 L366.5,121.05 L367.5,120.05 L368.5,119.03 L369.5,118.00 L370.5,116.95 L371.5,115.90 L372.5,114.83 L373.5,113.76 L374.5,112.70 L375.5,111.64 L376.5,110.57 L377.5,109.48 L378.5,108.39 L379.5,107.29 L380.5,106.20 L381.5,105.11 L382.5,104.03 L383.5,102.96 L384.5,101.91 L385.5,100.87 L386.5,99.85 L387.5,98.86 L388.5,97.91 L389.5,97.01 L390.5,96.18 L391.5,95.44 L392.5,94.77 L393.5,94.15 L394.5,93.55 L395.5,93.02 L396.5,92.56 L397.5,92.18 L398.5,91.95 L399.5,91.77 L400.5,91.49 L401.5,91.16 L402.5,90.88 L403.5,90.65 L404.5,90.46 L405.5,90.31 L406.5,90.20 L407.5,90.11 L408.5,90.05 L409.5,90.01 L410.5,89.98 L411.5,89.97 L411.8,89.97" stroke="#0000ff" stroke-dasharray="2.6 1"/>
<path d="M52.5,160.34 L53.5,160.33 L54.5,160.33 L55.5,160.32 L56.5,160.31 L57.5,160.30 L58.5,160.29 L59.5,160.28 L60.5,160.27 L61.5,160.26 L62.5,160.25 L63.5,160.24 L64.5,160.23 L65.5,160.22 L66.5,160.21 L67.5,160.20 L68.5,160.20 L69.5,160.19 L70.5,160.18 L71.5,160.17 L72.5,160.16 L73.5,160.15 L74.5,160.14 L75.5,160.13 L76.5,160.12 L77.5,160.11 L78.5,160.10 L79.5,160.09 L80.5,160.08 L81.5,160.07 L82.5,160.06 L83.5,160.06 L84.5,160.05 L85.5,160.04 L86.5,160.03 L87.5,160.02 L88.5,160.01 L89.5,160.00 L90.5,159.99 L91.5,159.98 L92.5,159.97 L93.5,159.96 L94.5,159.95 L95.5,159.94 L96.5,159.93 L97.5,159.93 L98.5,159.92 L99.5,159.91 L100.5,159.90 L101.5,159.89 L102.5,159.88 L103.5,159.87 L104.5,159.86 L105.5,159.85 L106.5,159.84 L107.5,159.83 L108.5,159.82 L109.5,159.81 L110.5,159.80 L111.5,159.79 L112.5,159.78 L113.5,159.77 L114.5,159.76 L115.5,159.75 L116.5,159.74 L117.5,159.73 L118.5,159.71 L119.5,159.70 L120.5,159.69 L121.5,159.67 L122.5,159.66 L123.5,159.64 L124.5,159.63 L125.5,159.61 L126.5,159.60 L127.5,159.58 L128.5,159.56 L129.5,159.55 L130.5,159.53 L131.5,159.51 L132.5,159.49 L133.5,159.48 L134.5,159.46 L135.5,159.44 L136.5,159.42 L137.5,159.40 L138.5,159.38 L139.5,159.36 L140.5,159.34 L141.5,159.32 L142.5,159.30 L143.5,159.28 L144.5,159.26 L145.5,159.24 L146.5,159.22 L147.5,159.19 L148.5,159.17 L149.5,159.15 L150.5,159.13 L151.5,159.11 L152.5,159.08 L153.5,159.06 L154.5,159.04 L155.5,159.02 L156.5,159.00 L157.5,158.97 L158.5,158.95 L159.5,158.93 L160.5,158.91 L161.5,158.89 L162.5,158.87 L163.5,158.85 L164.5,158.83 L165.5,158.81 L166.5,158.79 L167.5,158.77 L168.5,158.75 L169.5,158.73 L170.5,158.71 L171.5,158.68 L172.5,158.66 L173.5,158.64 L174.5,158.62 L175.5,158.60 L176.5,158.58 L177.5,158.55 L178.5,158.53 L179.5,158.51 L180.5,158.48 L181.5,158.46 L182.5,158.43 L183.5,158.40 L184.5,158.38 L185.5,158.35 L186.5,158.32 L187.5,158.30 L188.5,158.27 L189.5,158.24 L190.5,158.21 L191.5,158.18 L192.5,158.15 L193.5,158.12 L194.5,158.09 L195.5,158.06 L196.5,158.03 L197.5,157.99 L198.5,157.96 L199.5,157.93 L200.5,157.89 L201.5,157.86 L202.5,157.83 L203.5,157.80 L204.5,157.77 L205.5,157.73 L206.5,157.70 L207.5,157.67 L208.5,157.64 L209.5,157.61 L210.5,157.58 L211.5,157.55 L212.5,157.52 L213.5,157.49 L214.5,157.46 L215.5,157.43 L216.5,157.39 L217.5,157.36 L218.5,157.33 L219.5,157.29 L220.5,157.26 L221.5,157.22 L222.5,157.18 L223.5,157.14 L224.5,157.10 L225.5,157.06 L226.5,157.01 L227.5,156.97 L228.5,156.92 L229.5,156.87 L230.5,156.82 L231.5,156.77 L232.5,156.71 L233.5,156.65 L234.5,156.58 L235.5,156.51 L236.5,156.44 L237.5,156.37 L238.5,156.29 L239.5,156.21 L240.5,156.13 L241.5,156.04 L242.5,155.95 L243.5,155.86 L244.5,155.77 L245.5,155.68 L246.5,155.59 L247.5,155.49 L248.5,155.40 L249.5,155.30 L250.5,155.21 L251.5,155.11 L252.5,155.01 L253.5,154.92 L254.5,154.82 L255.5,154.72 L256.5,154.64 L257.5,154.57 L258.5,154.50 L259.5,154.45 L260.5,154.40 L261.5,154.36 L262.5,154.32 L263.5,154.28 L264.5,154.24 L265.5,154.19 L266.5,154.15 L267.5,154.10 L268.5,154.04 L269.5,153.97 L270.5,153.89 L271.5,153.81 L272.5,153.73 L273.5,153.64 L274.5,153.55 L275.5,153.45 L276.5,153.35 L277.5,153.25 L278.5,153.14 L279.5,153.03 L280.5,152.92 L281.5,152.80 L282.5,152.68 L283.5,152.55 L284.5,152.42 L285.5,152.28 L286.5,152.14 L287.5,151.99 L288.5,151.84 L289.5,151.68 L290.5,151.52 L291.5,151.36 L292.5,151.19 L293.5,151.01 L294.5,150.83 L295.5,150.65 L296.5,150.46 L297.5,150.27 L298.5,150.07 L299.5,149.87 L300.5,149.66 L301.5,149.44 L302.5,149.22 L303.5,148.98 L304.5,148.74 L305.5,148.50 L306.5,148.24 L307.5,147.98 L308.5,147.70 L309.5,147.41 L310.5,147.10 L311.5,146.79 L312.5,146.47 L313.5,146.15 L314.5,145.82 L315.5,145.48 L316.5,145.15 L317.5,144.81 L318.5,144.48 L319.5,144.15 L320.5,143.80 L321.5,143.46 L322.5,143.11 L323.5,142.75 L324.5,142.38 L325.5,142.01 L326.5,141.64 L327.5,141.26 L328.5,140.89 L329.5,140.50 L330.5,140.11 L331.5,139.72 L332.5,139.31 L333.5,138.89 L334.5,138.46 L335.5,138.02 L336.5,137.55 L337.5,137.07 L338.5,136.58 L339.5,136.09 L340.5,135.60 L341.5,135.10 L342.5,134.61 L343.5,134.11 L344.5,133.60 L345.5,133.08 L346.5,132.55 L347.5,132.00 L348.5,131.44 L349.5,130.86 L350.5,130.27 L351.5,129.65 L352.5,129.01 L353.5,128.36 L354.5,127.69 L355.5,127.01 L356.5,126.32 L357.5,125.61 L358.5,124.89 L359.5,124.17 L360.5,123.45 L361.5,122.77 L362.5,122.09 L363.5,121.33 L364.5,120.50 L365.5,119.63 L366.5,118.72 L367.5,117.79 L368.5,116.83 L369.5,115.85 L370.5,114.85 L371.5,113.83 L372.5,112.80 L373.5,111.77 L374.5,110.73 L375.5,109.70 L376.5,108.64 L377.5,107.58 L378.5,106.51 L379.5,105.44 L380.5,104.38 L381.5,103.33 L382.5,102.31 L383.5,101.30 L384.5,100.31 L385.5,99.34 L386.5,98.40 L387.5,97.49 L388.5,96.62 L389.5,95.81 L390.5,95.09 L391.5,94.48 L392.5,93.96 L393.5,93.46 L394.5,92.97 L395.5,92.54 L396.5,92.17 L397.5,91.90 L398.5,91.80 L399.5,91.72 L400.5,91.49 L401.5,91.16 L402.5,90.88 L403.5,90.65 L404.5,90.46 L405.5,90.31 L406.5,90.20 L407.5,90.11 L408.5,90.05 L409.5,90.01 L410.5,89.98 L411.5,89.97 L411.8,89.97" stroke="#0000ff" stroke-dasharray="1.2 1.8"/>
<path d="M52.5,160.36 L53.5,160.36 L54.5,160.36 L55.5,160.35 L56.5,160.35 L57.5,160.34 L58.5,160.34 L59.5,160.33 L60.5,160.32 L61.5,160.32 L62.5,160.31 L63.5,160.30 L64.5,160.28 L65.5,160.27 L66.5,160.26 L67.5,160.25 L68.5,160.23 L69.5,160.21 L70.5,160.20 L71.5,160.18 L72.5,160.16 L73.5,160.14 L74.5,160.12 L75.5,160.10 L76.5,160.08 L77.5,160.05 L78.5,160.03 L79.5,160.00 L80.5,159.98 L81.5,159.95 L82.5,159.92 L83.5,159.89 L84.5,159.86 L85.5,159.83 L86.5,159.80 L87.5,159.77 L88.5,159.74 L89.5,159.70 L90.5,159.66 L91.5,159.63 L92.5,159.59 L93.5,159.55 L94.5,159.51 L95.5,159.47 L96.5,159.43 L97.5,159.39 L98.5,159.35 L99.5,159.30 L100.5,159.26 L101.5,159.21 L102.5,159.17 L103.5,159.12 L104.5,159.07 L105.5,159.02 L106.5,158.97 L107.5,158.92 L108.5,158.86 L109.5,158.81 L110.5,158.76 L111.5,158.70 L112.5,158.64 L113.5,158.59 L114.5,158.53 L115.5,158.47 L116.5,158.41 L117.5,158.35 L118.5,158.29 L119.5,158.22 L120.5,158.16 L121.5,158.09 L122.5,158.03 L123.5,157.96 L124.5,157.89 L125.5,157.82 L126.5,157.75 L127.5,157.68 L128.5,157.61 L129.5,157.54 L130.5,157.46 L131.5,157.39 L132.5,157.31 L133.5,157.24 L134.5,157.16 L135.5,157.08 L136.5,157.00 L137.5,156.92 L138.5,156.84 L139.5,156.76 L140.5,156.67 L141.5,156.59 L142.5,156.50 L143.5,156.42 L144.5,156.33 L145.5,156.24 L146.5,156.15 L147.5,156.06 L148.5,155.97 L149.5,155.88 L150.5,155.78 L151.5,155.69 L152.5,155.60 L153.5,155.50 L154.5,155.40 L155.5,155.30 L156.5,155.20 L157.5,155.10 L158.5,155.00 L159.5,154.90 L160.5,154.80 L161.5,154.69 L162.5,154.59 L163.5,154.48 L164.5,154.37 L165.5,154.27 L166.5,154.16 L167.5,154.05 L168.5,153.94 L169.5,153.82 L170.5,153.71 L171.5,153.60 L172.5,153.48 L173.5,153.37 L174.5,153.25 L175.5,153.13 L176.5,153.01 L177.5,152.89 L178.5,152.77 L179.5,152.65 L180.5,152.52 L181.5,152.40 L182.5,152.28 L183.5,152.15 L184.5,152.02 L185.5,151.89 L186.5,151.76 L187.5,151.63 L188.5,151.50 L189.5,151.37 L190.5,151.24 L191.5,151.10 L192.5,150.97 L193.5,150.83 L194.5,150.69 L195.5,150.56 L196.5,150.42 L197.5,150.28 L198.5,150.13 L199.5,149.99 L200.5,149.85 L201.5,149.70 L202.5,149.56 L203.5,149.41 L204.5,149.26 L205.5,149.12 L206.5,148.97 L207.5,148.82 L208.5,148.66 L209.5,148.51 L210.5,148.36 L211.5,148.20 L212.5,148.05 L213.5,147.89 L214.5,147.73 L215.5,147.57 L216.5,147.41 L217.5,147.25 L218.5,147.09 L219.5,146.93 L220.5,146.76 L221.5,146.60 L222.5,146.43 L223.5,146.27 L224.5,146.10 L225.5,145.93 L226.5,145.76 L227.5,145.59 L228.5,145.41 L229.5,145.24 L230.5,145.07 L231.5,144.89 L232.5,144.71 L233.5,144.54 L234.5,144.36 L235.5,144.18 L236.5,143.99 L237.5,143.81 L238.5,143.62 L239.5,143.44 L240.5,143.25 L241.5,143.06 L242.5,142.86 L243.5,142.67 L244.5,142.47 L245.5,142.27 L246.5,142.07 L247.5,141.86 L248.5,141.66 L249.5,141.45 L250.5,141.24 L251.5,141.02 L252.5,140.80 L253.5,140.58 L254.5,140.36 L255.5,140.13 L256.5,139.90 L257.5,139.67 L258.5,139.43 L259.5,139.19 L260.5,138.94 L261.5,138.70 L262.5,138.45 L263.5,138.19 L264.5,137.93 L265.5,137.67 L266.5,137.40 L267.5,137.13 L268.5,136.85 L269.5,136.57 L270.5,136.29 L271.5,136.00 L272.5,135.71 L273.5,135.41 L274.5,135.11 L275.5,134.80 L276.5,134.48 L277.5,134.17 L278.5,133.84 L279.5,133.52 L280.5,133.18 L281.5,132.84 L282.5,132.50 L283.5,132.15 L284.5,131.80 L285.5,131.43 L286.5,131.07 L287.5,130.70 L288.5,130.32 L289.5,129.93 L290.5,129.54 L291.5,129.15 L292.5,128.74 L293.5,128.33 L294.5,127.92 L295.5,127.49 L296.5,127.07 L297.5,126.63 L298.5,126.19 L299.5,125.74 L300.5,125.28 L301.5,124.82 L302.5,124.35 L303.5,123.87 L304.5,123.38 L305.5,122.89 L306.5,122.39 L307.5,121.88 L308.5,121.37 L309.5,120.85 L310.5,120.31 L311.5,119.78 L312.5,119.23 L313.5,118.67 L314.5,118.11 L315.5,117.54 L316.5,116.96 L317.5,116.37 L318.5,115.77 L319.5,115.16 L320.5,114.53 L321.5,113.88 L322.5,113.20 L323.5,112.49 L324.5,111.75 L325.5,110.98 L326.5,110.19 L327.5,109.38 L328.5,108.55 L329.5,107.70 L330.5,106.83 L331.5,105.94 L332.5,105.04 L333.5,104.12 L334.5,103.20 L335.5,102.25 L336.5,101.28 L337.5,100.27 L338.5,99.23 L339.5,98.18 L340.5,97.12 L341.5,96.04 L342.5,94.97 L343.5,93.91 L344.5,92.85 L345.5,91.77 L346.5,90.67 L347.5,89.54 L348.5,88.39 L349.5,87.21 L350.5,86.00 L351.5,84.76 L352.5,83.50 L353.5,82.20 L354.5,80.88 L355.5,79.54 L356.5,78.17 L357.5,76.77 L358.5,75.36 L359.5,73.96 L360.5,72.57 L361.5,71.17 L362.5,69.78 L363.5,68.37 L364.5,66.95 L365.5,65.50 L366.5,64.03 L367.5,62.55 L368.5,61.06 L369.5,59.56 L370.5,58.06 L371.5,56.55 L372.5,55.03 L373.5,53.51 L374.5,51.98 L375.5,50.45 L376.5,48.91 L377.5,47.37 L378.5,45.83 L379.5,44.31 L380.5,42.79 L381.5,41.30 L382.5,39.83 L383.5,38.38 L384.5,36.97 L385.5,35.58 L386.5,34.22 L387.5,32.91 L388.5,31.63 L389.5,30.42 L390.5,29.27 L391.5,28.19 L392.5,27.19 L393.5,26.25 L394.5,25.39 L395.5,24.59 L396.5,23.87 L397.5,23.21 L398.5,22.62 L399.5,22.10 L400.5,21.65 L401.5,21.24 L402.5,20.90 L403.5,20.61 L404.5,20.36 L405.5,20.16 L406.5,20.00 L407.5,19.88 L408.5,19.79 L409.5,19.74 L410.5,19.71 L411.5,19.71 L411.8,19.71" stroke="#ffa500"/>
<path d="M52.5,160.36 L53.5,160.34 L54.5,160.32 L55.5,160.30 L56.5,160.28 L57.5,160.25 L58.5,160.23 L59.5,160.20 L60.5,160.16 L61.5,160.13 L62.5,160.09 L63.5,160.06 L64.5,160.02 L65.5,159.98 L66.5,159.93 L67.5,159.89 L68.5,159.84 L69.5,159.80 L70.5,159.75 L71.5,159.70 L72.5,159.64 L73.5,159.59 L74.5,159.53 L75.5,159.47 L76.5,159.42 L77.5,159.36 L78.5,159.29 L79.5,159.23 L80.5,159.17 L81.5,159.10 L82.5,159.03 L83.5,158.95 L84.5,158.88 L85.5,158.80 L86.5,158.71 L87.5,158.63 L88.5,158.54 L89.5,158.45 L90.5,158.36 L91.5,158.26 L92.5,158.16 L93.5,158.07 L94.5,157.97 L95.5,157.86 L96.5,157.76 L97.5,157.65 L98.5,157.55 L99.5,157.44 L100.5,157.33 L101.5,157.22 L102.5,157.11 L103.5,157.00 L104.5,156.89 L105.5,156.78 L106.5,156.67 L107.5,156.56 L108.5,156.45 L109.5,156.34 L110.5,156.23 L111.5,156.12 L112.5,156.01 L113.5,155.90 L114.5,155.79 L115.5,155.68 L116.5,155.57 L117.5,155.45 L118.5,155.34 L119.5,155.23 L120.5,155.11 L121.5,155.00 L122.5,154.88 L123.5,154.77 L124.5,154.65 L125.5,154.53 L126.5,154.41 L127.5,154.29 L128.5,154.17 L129.5,154.05 L130.5,153.92 L131.5,153.80 L132.5,153.67 L133.5,153.54 L134.5,153.41 L135.5,153.28 L136.5,153.15 L137.5,153.01 L138.5,152.88 L139.5,152.74 L140.5,152.60 L141.5,152.46 L142.5,152.32 L143.5,152.17 L144.5,152.03 L145.5,151.88 L146.5,151.73 L147.5,151.57 L148.5,151.42 L149.5,151.26 L150.5,151.10 L151.5,150.93 L152.5,150.77 L153.5,150.60 L154.5,150.42 L155.5,150.24 L156.5,150.07 L157.5,149.88 L158.5,149.70 L159.5,149.51 L160.5,149.32 L161.5,149.13 L162.5,148.94 L163.5,148.74 L164.5,148.55 L165.5,148.35 L166.5,148.15 L167.5,147.95 L168.5,147.75 L169.5,147.55 L170.5,147.35 L171.5,147.14 L172.5,146.94 L173.5,146.72 L174.5,146.51 L175.5,146.29 L176.5,146.08 L177.5,145.86 L178.5,145.63 L179.5,145.41 L180.5,145.19 L181.5,144.97 L182.5,144.74 L183.5,144.52 L184.5,144.30 L185.5,144.08 L186.5,143.86 L187.5,143.64 L188.5,143.42 L189.5,143.20 L190.5,142.99 L191.5,142.78 L192.5,142.56 L193.5,142.35 L194.5,142.14 L195.5,141.93 L196.5,141.71 L197.5,141.50 L198.5,141.29 L199.5,141.07 L200.5,140.86 L201.5,140.65 L202.5,140.43 L203.5,140.22 L204.5,140.00 L205.5,139.79 L206.5,139.57 L207.5,139.36 L208.5,139.14 L209.5,138.92 L210.5,138.70 L211.5,138.49 L212.5,138.27 L213.5,138.05 L214.5,137.83 L215.5,137.61 L216.5,137.38 L217.5,137.16 L218.5,136.94 L219.5,136.71 L220.5,136.49 L221.5,136.26 L222.5,136.03 L223.5,135.80 L224.5,135.57 L225.5,135.34 L226.5,135.11 L227.5,134.88 L228.5,134.64 L229.5,134.41 L230.5,134.17 L231.5,133.93 L232.5,133.69 L233.5,133.44 L234.5,133.20 L235.5,132.95 L236.5,132.70 L237.5,132.45 L238.5,132.19 L239.5,131.94 L240.5,131.68 L241.5,131.42 L242.5,131.16 L243.5,130.89 L244.5,130.63 L245.5,130.36 L246.5,130.09 L247.5,129.82 L248.5,129.55 L249.5,129.27 L250.5,129.00 L251.5,128.72 L252.5,128.44 L253.5,128.15 L254.5,127.87 L255.5,127.59 L256.5,127.30 L257.5,127.01 L258.5,126.72 L259.5,126.43 L260.5,126.13 L261.5,125.84 L262.5,125.54 L263.5,125.24 L264.5,124.94 L265.5,124.64 L266.5,124.34 L267.5,124.03 L268.5,123.72 L269.5,123.41 L270.5,123.09 L271.5,122.77 L272.5,122.45 L273.5,122.12 L274.5,121.78 L275.5,121.44 L276.5,121.10 L277.5,120.75 L278.5,120.40 L279.5,120.04 L280.5,119.68 L281.5,119.31 L282.5,118.94 L283.5,118.57 L284.5,118.19 L285.5,117.80 L286.5,117.41 L287.5,117.02 L288.5,116.62 L289.5,116.21 L290.5,115.81 L291.5,115.39 L292.5,114.97 L293.5,114.55 L294.5,114.12 L295.5,113.69 L296.5,113.26 L297.5,112.81 L298.5,112.37 L299.5,111.92 L300.5,111.46 L301.5,111.01 L302.5,110.56 L303.5,110.12 L304.5,109.67 L305.5,109.23 L306.5,108.78 L307.5,108.33 L308.5,107.87 L309.5,107.40 L310.5,106.92 L311.5,106.44 L312.5,105.96 L313.5,105.47 L314.5,104.98 L315.5,104.48 L316.5,103.97 L317.5,103.44 L318.5,102.90 L319.5,102.33 L320.5,101.75 L321.5,101.15 L322.5,100.54 L323.5,99.91 L324.5,99.27 L325.5,98.61 L326.5,97.94 L327.5,97.25 L328.5,96.55 L329.5,95.83 L330.5,95.10 L331.5,94.36 L332.5,93.60 L333.5,92.84 L334.5,92.05 L335.5,91.23 L336.5,90.39 L337.5,89.53 L338.5,88.65 L339.5,87.74 L340.5,86.81 L341.5,85.87 L342.5,84.91 L343.5,83.93 L344.5,82.95 L345.5,81.95 L346.5,80.93 L347.5,79.89 L348.5,78.84 L349.5,77.78 L350.5,76.75 L351.5,75.74 L352.5,74.75 L353.5,73.75 L354.5,72.74 L355.5,71.71 L356.5,70.72 L357.5,69.72 L358.5,68.69 L359.5,67.57 L360.5,66.33 L361.5,65.05 L362.5,63.74 L363.5,62.44 L364.5,61.16 L365.5,59.90 L366.5,58.64 L367.5,57.39 L368.5,56.14 L369.5,54.88 L370.5,53.62 L371.5,52.33 L372.5,51.00 L373.5,49.67 L374.5,48.34 L375.5,47.00 L376.5,45.67 L377.5,44.34 L378.5,43.00 L379.5,41.67 L380.5,40.34 L381.5,39.04 L382.5,37.76 L383.5,36.52 L384.5,35.34 L385.5,34.28 L386.5,33.31 L387.5,32.37 L388.5,31.42 L389.5,30.39 L390.5,29.27 L391.5,28.19 L392.5,27.19 L393.5,26.25 L394.5,25.39 L395.5,24.59 L396.5,23.87 L397.5,23.21 L398.5,22.62 L399.5,22.10 L400.5,21.65 L401.5,21.24 L402.5,20.90 L403.5,20.61 L404.5,20.36 L405.5,20.16 L406.5,20.00 L407.5,19.88 L408.5,19.79 L409.5,19.74 L410.5,19.71 L411.5,19.71 L411.8,19.71" stroke="#ffa500" stroke-dasharray="2.6 1"/>
<path d="M52.5,160.36 L53.5,160.33 L54.5,160.29 L55.5,160.26 L56.5,160.22 L57.5,160.18 L58.5,160.14 L59.5,160.09 L60.5,160.04 L61.5,159.99 L62.5,159.94 L63.5,159.89 L64.5,159.83 L65.5,159.77 L66.5,159.71 L67.5,159.65 L68.5,159.59 L69.5,159.52 L70.5,159.45 L71.5,159.38 L72.5,159.31 L73.5,159.24 L74.5,159.17 L75.5,159.09 L76.5,159.01 L77.5,158.93 L78.5,158.85 L79.5,158.77 L80.5,158.68 L81.5,158.59 L82.5,158.50 L83.5,158.41 L84.5,158.31 L85.5,158.21 L86.5,158.10 L87.5,158.00 L88.5,157.89 L89.5,157.78 L90.5,157.66 L91.5,157.54 L92.5,157.42 L93.5,157.30 L94.5,157.18 L95.5,157.06 L96.5,156.93 L97.5,156.80 L98.5,156.67 L99.5,156.54 L100.5,156.41 L101.5,156.27 L102.5,156.14 L103.5,156.00 L104.5,155.87 L105.5,155.73 L106.5,155.59 L107.5,155.46 L108.5,155.32 L109.5,155.18 L110.5,155.04 L111.5,154.90 L112.5,154.77 L113.5,154.63 L114.5,154.49 L115.5,154.35 L116.5,154.21 L117.5,154.07 L118.5,153.93 L119.5,153.79 L120.5,153.65 L121.5,153.51 L122.5,153.37 L123.5,153.22 L124.5,153.08 L125.5,152.93 L126.5,152.78 L127.5,152.63 L128.5,152.48 L129.5,152.33 L130.5,152.17 L131.5,152.02 L132.5,151.86 L133.5,151.70 L134.5,151.54 L135.5,151.37 L136.5,151.21 L137.5,151.04 L138.5,150.86 L139.5,150.69 L140.5,150.51 L141.5,150.33 L142.5,150.15 L143.5,149.96 L144.5,149.78 L145.5,149.58 L146.5,149.39 L147.5,149.19 L148.5,148.99 L149.5,148.78 L150.5,148.57 L151.5,148.35 L152.5,148.13 L153.5,147.90 L154.5,147.66 L155.5,147.41 L156.5,147.16 L157.5,146.90 L158.5,146.64 L159.5,146.37 L160.5,146.10 L161.5,145.83 L162.5,145.56 L163.5,145.28 L164.5,145.00 L165.5,144.72 L166.5,144.43 L167.5,144.15 L168.5,143.87 L169.5,143.59 L170.5,143.31 L171.5,143.02 L172.5,142.73 L173.5,142.44 L174.5,142.14 L175.5,141.84 L176.5,141.54 L177.5,141.23 L178.5,140.93 L179.5,140.62 L180.5,140.31 L181.5,140.00 L182.5,139.70 L183.5,139.39 L184.5,139.09 L185.5,138.78 L186.5,138.49 L187.5,138.19 L188.5,137.90 L189.5,137.61 L190.5,137.33 L191.5,137.05 L192.5,136.77 L193.5,136.50 L194.5,136.22 L195.5,135.94 L196.5,135.67 L197.5,135.40 L198.5,135.12 L199.5,134.85 L200.5,134.58 L201.5,134.31 L202.5,134.03 L203.5,133.76 L204.5,133.49 L205.5,133.22 L206.5,132.95 L207.5,132.68 L208.5,132.41 L209.5,132.14 L210.5,131.87 L211.5,131.60 L212.5,131.32 L213.5,131.05 L214.5,130.78 L215.5,130.50 L216.5,130.23 L217.5,129.95 L218.5,129.67 L219.5,129.40 L220.5,129.12 L221.5,128.84 L222.5,128.55 L223.5,128.27 L224.5,127.99 L225.5,127.70 L226.5,127.41 L227.5,127.12 L228.5,126.83 L229.5,126.53 L230.5,126.24 L231.5,125.94 L232.5,125.64 L233.5,125.33 L234.5,125.03 L235.5,124.72 L236.5,124.41 L237.5,124.09 L238.5,123.78 L239.5,123.46 L240.5,123.14 L241.5,122.82 L242.5,122.49 L243.5,122.17 L244.5,121.84 L245.5,121.51 L246.5,121.17 L247.5,120.84 L248.5,120.50 L249.5,120.17 L250.5,119.83 L251.5,119.49 L252.5,119.15 L253.5,118.80 L254.5,118.46 L255.5,118.11 L256.5,117.76 L257.5,117.42 L258.5,117.07 L259.5,116.71 L260.5,116.36 L261.5,116.01 L262.5,115.66 L263.5,115.30 L264.5,114.95 L265.5,114.59 L266.5,114.23 L267.5,113.88 L268.5,113.52 L269.5,113.15 L270.5,112.78 L271.5,112.40 L272.5,112.01 L273.5,111.63 L274.5,111.23 L275.5,110.83 L276.5,110.43 L277.5,110.03 L278.5,109.61 L279.5,109.20 L280.5,108.78 L281.5,108.36 L282.5,107.93 L283.5,107.50 L284.5,107.07 L285.5,106.64 L286.5,106.20 L287.5,105.76 L288.5,105.32 L289.5,104.87 L290.5,104.42 L291.5,103.98 L292.5,103.53 L293.5,103.07 L294.5,102.62 L295.5,102.17 L296.5,101.71 L297.5,101.26 L298.5,100.80 L299.5,100.35 L300.5,99.89 L301.5,99.43 L302.5,98.96 L303.5,98.48 L304.5,98.00 L305.5,97.52 L306.5,97.02 L307.5,96.52 L308.5,96.02 L309.5,95.50 L310.5,94.98 L311.5,94.45 L312.5,93.92 L313.5,93.38 L314.5,92.83 L315.5,92.30 L316.5,91.78 L317.5,91.27 L318.5,90.77 L319.5,90.28 L320.5,89.79 L321.5,89.30 L322.5,88.81 L323.5,88.31 L324.5,87.80 L325.5,87.28 L326.5,86.75 L327.5,86.20 L328.5,85.64 L329.5,85.07 L330.5,84.51 L331.5,83.93 L332.5,83.36 L333.5,82.77 L334.5,82.18 L335.5,81.57 L336.5,80.96 L337.5,80.32 L338.5,79.67 L339.5,79.00 L340.5,78.31 L341.5,77.59 L342.5,76.85 L343.5,76.07 L344.5,75.27 L345.5,74.43 L346.5,73.57 L347.5,72.69 L348.5,71.79 L349.5,70.88 L350.5,69.96 L351.5,69.04 L352.5,68.11 L353.5,67.19 L354.5,66.27 L355.5,65.41 L356.5,64.73 L357.5,64.16 L358.5,63.58 L359.5,62.87 L360.5,61.92 L361.5,60.85 L362.5,59.70 L363.5,58.48 L364.5,57.21 L365.5,55.90 L366.5,54.57 L367.5,53.24 L368.5,51.92 L369.5,50.62 L370.5,49.37 L371.5,48.17 L372.5,47.13 L373.5,46.25 L374.5,45.41 L375.5,44.49 L376.5,43.37 L377.5,42.17 L378.5,40.91 L379.5,39.64 L380.5,38.37 L381.5,37.13 L382.5,35.95 L383.5,34.86 L384.5,33.95 L385.5,33.16 L386.5,32.43 L387.5,31.70 L388.5,30.92 L389.5,30.09 L390.5,29.14 L391.5,28.18 L392.5,27.19 L393.5,26.25 L394.5,25.39 L395.5,24.59 L396.5,23.87 L397.5,23.21 L398.5,22.62 L399.5,22.10 L400.5,21.65 L401.5,21.24 L402.5,20.90 L403.5,20.61 L404.5,20.36 L405.5,20.16 L406.5,20.00 L407.5,19.88 L408.5,19.79 L409.5,19.74 L410.5,19.71 L411.5,19.71 L411.8,19.71" stroke="#ffa500" stroke-dasharray="1.2 1.8"/>
<path d="M52.5,89.47 L53.5,89.47 L54.5,89.47 L55.5,89.47 L56.5,89.47 L57.5,89.47 L58.5,89.47 L59.5,89.47 L60.5,89.47 L61.5,89.46 L62.5,89.46 L63.5,89.46 L64.5,89.45 L65.5,89.45 L66.5,89.44 L67.5,89.44 L68.5,89.43 L69.5,89.43 L70.5,89.42 L71.5,89.42 L72.5,89.41 L73.5,89.40 L74.5,89.40 L75.5,89.39 L76.5,89.38 L77.5,89.37 L78.5,89.36 L79.5,89.35 L80.5,89.34 L81.5,89.33 L82.5,89.32 L83.5,89.31 L84.5,89.30 L85.5,89.29 L86.5,89.28 L87.5,89.26 L88.5,89.25 L89.5,89.24 L90.5,89.22 L91.5,89.21 L92.5,89.20 L93.5,89.18 L94.5,89.17 L95.5,89.15 L96.5,89.13 L97.5,89.12 L98.5,89.10 L99.5,89.09 L100.5,89.07 L101.5,89.05 L102.5,89.03 L103.5,89.01 L104.5,89.00 L105.5,88.98 L106.5,88.96 L107.5,88.94 L108.5,88.92 L109.5,88.90 L110.5,88.88 L111.5,88.86 L112.5,88.83 L113.5,88.81 L114.5,88.79 L115.5,88.77 L116.5,88.75 L117.5,88.72 L118.5,88.70 L119.5,88.67 L120.5,88.65 L121.5,88.63 L122.5,88.60 L123.5,88.58 L124.5,88.55 L125.5,88.53 L126.5,88.50 L127.5,88.47 L128.5,88.45 L129.5,88.42 L130.5,88.39 L131.5,88.36 L132.5,88.34 L133.5,88.31 L134.5,88.28 L135.5,88.25 L136.5,88.22 L137.5,88.19 L138.5,88.16 L139.5,88.13 L140.5,88.10 L141.5,88.07 L142.5,88.04 L143.5,88.01 L144.5,87.97 L145.5,87.94 L146.5,87.91 L147.5,87.88 L148.5,87.84 L149.5,87.81 L150.5,87.78 L151.5,87.74 L152.5,87.71 L153.5,87.67 L154.5,87.64 L155.5,87.60 L156.5,87.57 L157.5,87.53 L158.5,87.49 L159.5,87.46 L160.5,87.42 L161.5,87.38 L162.5,87.35 L163.5,87.31 L164.5,87.27 L165.5,87.23 L166.5,87.20 L167.5,87.16 L168.5,87.12 L169.5,87.08 L170.5,87.04 L171.5,87.00 L172.5,86.96 L173.5,86.92 L174.5,86.88 L175.5,86.84 L176.5,86.79 L177.5,86.75 L178.5,86.71 L179.5,86.67 L180.5,86.63 L181.5,86.58 L182.5,86.54 L183.5,86.50 L184.5,86.45 L185.5,86.41 L186.5,86.36 L187.5,86.32 L188.5,86.27 L189.5,86.23 L190.5,86.18 L191.5,86.13 L192.5,86.09 L193.5,86.04 L194.5,85.99 L195.5,85.94 L196.5,85.89 L197.5,85.84 L198.5,85.78 L199.5,85.73 L200.5,85.68 L201.5,85.62 L202.5,85.57 L203.5,85.52 L204.5,85.46 L205.5,85.41 L206.5,85.36 L207.5,85.31 L208.5,85.26 L209.5,85.20 L210.5,85.15 L211.5,85.10 L212.5,85.04 L213.5,84.99 L214.5,84.94 L215.5,84.88 L216.5,84.82 L217.5,84.77 L218.5,84.71 L219.5,84.65 L220.5,84.59 L221.5,84.53 L222.5,84.47 L223.5,84.41 L224.5,84.34 L225.5,84.27 L226.5,84.21 L227.5,84.14 L228.5,84.06 L229.5,83.99 L230.5,83.91 L231.5,83.84 L232.5,83.76 L233.5,83.67 L234.5,83.59 L235.5,83.50 L236.5,83.41 L237.5,83.32 L238.5,83.23 L239.5,83.13 L240.5,83.03 L241.5,82.93 L242.5,82.82 L243.5,82.72 L244.5,82.61 L245.5,82.50 L246.5,82.39 L247.5,82.28 L248.5,82.16 L249.5,82.04 L250.5,81.92 L251.5,81.80 L252.5,81.67 L253.5,81.54 L254.5,81.41 L255.5,81.27 L256.5,81.13 L257.5,80.98 L258.5,80.83 L259.5,80.68 L260.5,80.52 L261.5,80.36 L262.5,80.20 L263.5,80.03 L264.5,79.86 L265.5,79.69 L266.5,79.51 L267.5,79.33 L268.5,79.15 L269.5,78.97 L270.5,78.78 L271.5,78.58 L272.5,78.39 L273.5,78.19 L274.5,77.98 L275.5,77.77 L276.5,77.55 L277.5,77.33 L278.5,77.11 L279.5,76.87 L280.5,76.64 L281.5,76.39 L282.5,76.14 L283.5,75.88 L284.5,75.62 L285.5,75.35 L286.5,75.08 L287.5,74.80 L288.5,74.51 L289.5,74.21 L290.5,73.91 L291.5,73.59 L292.5,73.28 L293.5,72.95 L294.5,72.61 L295.5,72.27 L296.5,71.92 L297.5,71.56 L298.5,71.19 L299.5,70.81 L300.5,70.42 L301.5,70.01 L302.5,69.59 L303.5,69.16 L304.5,68.71 L305.5,68.25 L306.5,67.78 L307.5,67.29 L308.5,66.79 L309.5,66.28 L310.5,65.76 L311.5,65.22 L312.5,64.68 L313.5,64.12 L314.5,63.56 L315.5,62.99 L316.5,62.40 L317.5,61.80 L318.5,61.18 L319.5,60.56 L320.5,59.92 L321.5,59.26 L322.5,58.59 L323.5,57.91 L324.5,57.22 L325.5,56.50 L326.5,55.78 L327.5,55.03 L328.5,54.28 L329.5,53.50 L330.5,52.70 L331.5,51.89 L332.5,51.06 L333.5,50.21 L334.5,49.34 L335.5,48.46 L336.5,47.57 L337.5,46.66 L338.5,45.73 L339.5,44.80 L340.5,43.85 L341.5,42.88 L342.5,41.91 L343.5,40.92 L344.5,39.92 L345.5,38.90 L346.5,37.87 L347.5,36.83 L348.5,35.79 L349.5,34.74 L350.5,33.69 L351.5,32.64 L352.5,31.60 L353.5,30.57 L354.5,29.55 L355.5,28.54 L356.5,27.55 L357.5,26.58 L358.5,25.64 L359.5,24.72 L360.5,23.83 L361.5,22.98 L362.5,22.16 L363.5,21.38 L364.5,20.64 L365.5,19.95 L366.5,19.31 L367.5,18.74 L368.5,18.22 L369.5,17.77 L370.5,17.39 L371.5,17.09 L372.5,16.87 L373.5,16.73 L374.5,16.68 L375.5,16.73 L376.5,16.87 L377.5,17.12 L378.5,17.48 L379.5,17.94 L380.5,18.53 L381.5,19.23 L382.5,20.06 L383.5,21.02 L384.5,22.12 L385.5,23.35 L386.5,24.72 L387.5,26.23 L388.5,27.87 L389.5,29.63 L390.5,31.51 L391.5,33.50 L392.5,35.61 L393.5,37.81 L394.5,40.12 L395.5,42.51 L396.5,45.00 L397.5,47.56 L398.5,50.21 L399.5,52.92 L400.5,55.70 L401.5,58.55 L402.5,61.45 L403.5,64.39 L404.5,67.39 L405.5,70.43 L406.5,73.50 L407.5,76.60 L408.5,79.72 L409.5,82.87 L410.5,86.02 L411.5,89.19 L411.8,90.14" stroke="#006400"/>
<path d="M52.5,89.12 L53.5,89.12 L54.5,89.12 L55.5,89.12 L56.5,89.12 L57.5,89.12 L58.5,89.12 L59.5,89.12 L60.5,89.12 L61.5,89.11 L62.5,89.11 L63.5,89.11 L64.5,89.10 L65.5,89.10 L66.5,89.09 L67.5,89.09 L68.5,89.08 L69.5,89.08 L70.5,89.07 L71.5,89.07 L72.5,89.06 L73.5,89.05 L74.5,89.05 L75.5,89.04 L76.5,89.03 L77.5,89.02 L78.5,89.01 L79.5,89.00 L80.5,88.99 L81.5,88.98 L82.5,88.97 L83.5,88.96 L84.5,88.95 L85.5,88.94 L86.5,88.93 L87.5,88.91 L88.5,88.90 L89.5,88.89 L90.5,88.87 L91.5,88.86 L92.5,88.85 L93.5,88.83 L94.5,88.82 L95.5,88.80 L96.5,88.78 L97.5,88.77 L98.5,88.75 L99.5,88.74 L100.5,88.72 L101.5,88.70 L102.5,88.68 L103.5,88.66 L104.5,88.65 L105.5,88.63 L106.5,88.61 L107.5,88.59 L108.5,88.57 L109.5,88.55 L110.5,88.53 L111.5,88.51 L112.5,88.49 L113.5,88.47 L114.5,88.45 L115.5,88.43 L116.5,88.41 L117.5,88.39 L118.5,88.37 L119.5,88.35 L120.5,88.33 L121.5,88.31 L122.5,88.30 L123.5,88.28 L124.5,88.26 L125.5,88.24 L126.5,88.22 L127.5,88.21 L128.5,88.19 L129.5,88.17 L130.5,88.15 L131.5,88.13 L132.5,88.11 L133.5,88.10 L134.5,88.08 L135.5,88.06 L136.5,88.04 L137.5,88.02 L138.5,88.00 L139.5,87.98 L140.5,87.96 L141.5,87.94 L142.5,87.92 L143.5,87.90 L144.5,87.88 L145.5,87.86 L146.5,87.83 L147.5,87.81 L148.5,87.79 L149.5,87.77 L150.5,87.74 L151.5,87.72 L152.5,87.69 L153.5,87.67 L154.5,87.64 L155.5,87.62 L156.5,87.59 L157.5,87.56 L158.5,87.53 L159.5,87.51 L160.5,87.48 L161.5,87.45 L162.5,87.42 L163.5,87.39 L164.5,87.36 L165.5,87.33 L166.5,87.30 L167.5,87.27 L168.5,87.23 L169.5,87.20 L170.5,87.17 L171.5,87.14 L172.5,87.11 L173.5,87.08 L174.5,87.05 L175.5,87.02 L176.5,86.98 L177.5,86.95 L178.5,86.92 L179.5,86.89 L180.5,86.86 L181.5,86.83 L182.5,86.80 L183.5,86.77 L184.5,86.75 L185.5,86.72 L186.5,86.69 L187.5,86.66 L188.5,86.64 L189.5,86.61 L190.5,86.58 L191.5,86.55 L192.5,86.53 L193.5,86.50 L194.5,86.47 L195.5,86.44 L196.5,86.41 L197.5,86.38 L198.5,86.36 L199.5,86.33 L200.5,86.29 L201.5,86.27 L202.5,86.24 L203.5,86.21 L204.5,86.18 L205.5,86.15 L206.5,86.13 L207.5,86.10 L208.5,86.08 L209.5,86.05 L210.5,86.03 L211.5,86.00 L212.5,85.98 L213.5,85.95 L214.5,85.93 L215.5,85.91 L216.5,85.88 L217.5,85.86 L218.5,85.84 L219.5,85.81 L220.5,85.79 L221.5,85.76 L222.5,85.74 L223.5,85.71 L224.5,85.68 L225.5,85.65 L226.5,85.62 L227.5,85.59 L228.5,85.56 L229.5,85.52 L230.5,85.49 L231.5,85.45 L232.5,85.41 L233.5,85.37 L234.5,85.33 L235.5,85.28 L236.5,85.23 L237.5,85.18 L238.5,85.13 L239.5,85.07 L240.5,85.02 L241.5,84.97 L242.5,84.92 L243.5,84.87 L244.5,84.83 L245.5,84.79 L246.5,84.74 L247.5,84.69 L248.5,84.64 L249.5,84.58 L250.5,84.51 L251.5,84.43 L252.5,84.34 L253.5,84.24 L254.5,84.12 L255.5,84.00 L256.5,83.86 L257.5,83.73 L258.5,83.58 L259.5,83.43 L260.5,83.27 L261.5,83.11 L262.5,82.94 L263.5,82.77 L264.5,82.60 L265.5,82.43 L266.5,82.25 L267.5,82.07 L268.5,81.89 L269.5,81.70 L270.5,81.52 L271.5,81.32 L272.5,81.13 L273.5,80.93 L274.5,80.73 L275.5,80.52 L276.5,80.31 L277.5,80.09 L278.5,79.87 L279.5,79.64 L280.5,79.41 L281.5,79.17 L282.5,78.92 L283.5,78.67 L284.5,78.42 L285.5,78.16 L286.5,77.90 L287.5,77.63 L288.5,77.36 L289.5,77.09 L290.5,76.80 L291.5,76.52 L292.5,76.22 L293.5,75.92 L294.5,75.62 L295.5,75.31 L296.5,74.99 L297.5,74.66 L298.5,74.33 L299.5,73.99 L300.5,73.64 L301.5,73.30 L302.5,72.96 L303.5,72.62 L304.5,72.27 L305.5,71.92 L306.5,71.55 L307.5,71.17 L308.5,70.77 L309.5,70.34 L310.5,69.89 L311.5,69.43 L312.5,68.95 L313.5,68.47 L314.5,67.97 L315.5,67.46 L316.5,66.94 L317.5,66.40 L318.5,65.85 L319.5,65.28 L320.5,64.70 L321.5,64.11 L322.5,63.50 L323.5,62.88 L324.5,62.25 L325.5,61.60 L326.5,60.94 L327.5,60.27 L328.5,59.59 L329.5,58.89 L330.5,58.19 L331.5,57.48 L332.5,56.74 L333.5,55.99 L334.5,55.21 L335.5,54.41 L336.5,53.59 L337.5,52.73 L338.5,51.84 L339.5,50.92 L340.5,49.98 L341.5,49.03 L342.5,48.06 L343.5,47.09 L344.5,46.09 L345.5,45.09 L346.5,44.07 L347.5,43.05 L348.5,42.02 L349.5,40.98 L350.5,39.95 L351.5,38.90 L352.5,37.82 L353.5,36.71 L354.5,35.61 L355.5,34.54 L356.5,33.49 L357.5,32.46 L358.5,31.45 L359.5,30.46 L360.5,29.50 L361.5,28.57 L362.5,27.67 L363.5,26.81 L364.5,26.00 L365.5,25.22 L366.5,24.50 L367.5,23.82 L368.5,23.20 L369.5,22.65 L370.5,22.15 L371.5,21.72 L372.5,21.36 L373.5,21.08 L374.5,20.88 L375.5,20.77 L376.5,20.74 L377.5,20.81 L378.5,20.96 L379.5,21.21 L380.5,21.54 L381.5,21.96 L382.5,22.45 L383.5,23.00 L384.5,23.69 L385.5,24.56 L386.5,25.55 L387.5,26.68 L388.5,28.03 L389.5,29.64 L390.5,31.51 L391.5,33.50 L392.5,35.61 L393.5,37.81 L394.5,40.12 L395.5,42.51 L396.5,45.00 L397.5,47.56 L398.5,50.21 L399.5,52.92 L400.5,55.70 L401.5,58.55 L402.5,61.45 L403.5,64.39 L404.5,67.39 L405.5,70.43 L406.5,73.50 L407.5,76.60 L408.5,79.72 L409.5,82.87 L410.5,86.02 L411.5,89.19 L411.8,90.14" stroke="#006400" stroke-dasharray="2.6 1"/>
<path d="M52.5,88.77 L53.5,88.77 L54.5,88.77 L55.5,88.77 L56.5,88.77 L57.5,88.77 L58.5,88.77 L59.5,88.77 L60.5,88.77 L61.5,88.76 L62.5,88.76 L63.5,88.76 L64.5,88.75 L65.5,88.75 L66.5,88.74 L67.5,88.74 L68.5,88.73 L69.5,88.73 L70.5,88.72 L71.5,88.72 L72.5,88.71 L73.5,88.70 L74.5,88.70 L75.5,88.69 L76.5,88.68 L77.5,88.67 L78.5,88.66 L79.5,88.65 L80.5,88.64 L81.5,88.63 L82.5,88.62 L83.5,88.61 L84.5,88.60 L85.5,88.59 L86.5,88.58 L87.5,88.56 L88.5,88.55 L89.5,88.54 L90.5,88.52 L91.5,88.51 L92.5,88.50 L93.5,88.48 L94.5,88.47 L95.5,88.45 L96.5,88.43 L97.5,88.42 L98.5,88.40 L99.5,88.39 L100.5,88.37 L101.5,88.35 L102.5,88.33 L103.5,88.31 L104.5,88.30 L105.5,88.28 L106.5,88.26 L107.5,88.24 L108.5,88.22 L109.5,88.20 L110.5,88.18 L111.5,88.16 L112.5,88.14 L113.5,88.12 L114.5,88.10 L115.5,88.08 L116.5,88.07 L117.5,88.05 L118.5,88.04 L119.5,88.02 L120.5,88.01 L121.5,87.99 L122.5,87.98 L123.5,87.97 L124.5,87.95 L125.5,87.94 L126.5,87.93 L127.5,87.92 L128.5,87.90 L129.5,87.89 L130.5,87.88 L131.5,87.87 L132.5,87.86 L133.5,87.85 L134.5,87.83 L135.5,87.82 L136.5,87.81 L137.5,87.80 L138.5,87.79 L139.5,87.77 L140.5,87.76 L141.5,87.75 L142.5,87.74 L143.5,87.72 L144.5,87.71 L145.5,87.69 L146.5,87.68 L147.5,87.66 L148.5,87.65 L149.5,87.63 L150.5,87.62 L151.5,87.60 L152.5,87.58 L153.5,87.56 L154.5,87.54 L155.5,87.52 L156.5,87.50 L157.5,87.48 L158.5,87.45 L159.5,87.43 L160.5,87.41 L161.5,87.38 L162.5,87.36 L163.5,87.33 L164.5,87.31 L165.5,87.28 L166.5,87.26 L167.5,87.23 L168.5,87.20 L169.5,87.18 L170.5,87.15 L171.5,87.12 L172.5,87.10 L173.5,87.07 L174.5,87.04 L175.5,87.02 L176.5,86.99 L177.5,86.97 L178.5,86.94 L179.5,86.91 L180.5,86.89 L181.5,86.86 L182.5,86.84 L183.5,86.82 L184.5,86.79 L185.5,86.77 L186.5,86.74 L187.5,86.72 L188.5,86.70 L189.5,86.67 L190.5,86.65 L191.5,86.62 L192.5,86.60 L193.5,86.58 L194.5,86.55 L195.5,86.53 L196.5,86.50 L197.5,86.47 L198.5,86.45 L199.5,86.42 L200.5,86.39 L201.5,86.37 L202.5,86.34 L203.5,86.32 L204.5,86.29 L205.5,86.27 L206.5,86.25 L207.5,86.22 L208.5,86.20 L209.5,86.18 L210.5,86.16 L211.5,86.14 L212.5,86.12 L213.5,86.10 L214.5,86.08 L215.5,86.06 L216.5,86.04 L217.5,86.02 L218.5,86.00 L219.5,85.98 L220.5,85.96 L221.5,85.94 L222.5,85.92 L223.5,85.89 L224.5,85.87 L225.5,85.84 L226.5,85.82 L227.5,85.79 L228.5,85.76 L229.5,85.73 L230.5,85.70 L231.5,85.67 L232.5,85.64 L233.5,85.60 L234.5,85.56 L235.5,85.52 L236.5,85.48 L237.5,85.44 L238.5,85.39 L239.5,85.35 L240.5,85.30 L241.5,85.25 L242.5,85.21 L243.5,85.18 L244.5,85.14 L245.5,85.11 L246.5,85.07 L247.5,85.03 L248.5,84.99 L249.5,84.94 L250.5,84.88 L251.5,84.82 L252.5,84.74 L253.5,84.65 L254.5,84.55 L255.5,84.44 L256.5,84.33 L257.5,84.20 L258.5,84.07 L259.5,83.93 L260.5,83.78 L261.5,83.63 L262.5,83.48 L263.5,83.32 L264.5,83.16 L265.5,82.99 L266.5,82.83 L267.5,82.66 L268.5,82.50 L269.5,82.33 L270.5,82.16 L271.5,81.98 L272.5,81.80 L273.5,81.63 L274.5,81.44 L275.5,81.26 L276.5,81.07 L277.5,80.87 L278.5,80.67 L279.5,80.47 L280.5,80.26 L281.5,80.05 L282.5,79.83 L283.5,79.61 L284.5,79.38 L285.5,79.15 L286.5,78.91 L287.5,78.67 L288.5,78.42 L289.5,78.17 L290.5,77.91 L291.5,77.65 L292.5,77.38 L293.5,77.11 L294.5,76.83 L295.5,76.55 L296.5,76.26 L297.5,75.96 L298.5,75.66 L299.5,75.35 L300.5,75.04 L301.5,74.73 L302.5,74.42 L303.5,74.10 L304.5,73.78 L305.5,73.45 L306.5,73.10 L307.5,72.74 L308.5,72.34 L309.5,71.92 L310.5,71.47 L311.5,71.00 L312.5,70.51 L313.5,70.01 L314.5,69.49 L315.5,68.96 L316.5,68.42 L317.5,67.86 L318.5,67.28 L319.5,66.69 L320.5,66.09 L321.5,65.47 L322.5,64.85 L323.5,64.21 L324.5,63.55 L325.5,62.89 L326.5,62.22 L327.5,61.54 L328.5,60.84 L329.5,60.14 L330.5,59.43 L331.5,58.71 L332.5,57.99 L333.5,57.25 L334.5,56.51 L335.5,55.74 L336.5,54.97 L337.5,54.17 L338.5,53.36 L339.5,52.53 L340.5,51.68 L341.5,50.82 L342.5,49.94 L343.5,49.04 L344.5,48.14 L345.5,47.22 L346.5,46.29 L347.5,45.36 L348.5,44.43 L349.5,43.50 L350.5,42.57 L351.5,41.66 L352.5,40.77 L353.5,39.89 L354.5,38.98 L355.5,38.03 L356.5,37.10 L357.5,36.20 L358.5,35.33 L359.5,34.49 L360.5,33.68 L361.5,32.84 L362.5,31.99 L363.5,31.15 L364.5,30.33 L365.5,29.53 L366.5,28.74 L367.5,27.96 L368.5,27.25 L369.5,26.62 L370.5,26.08 L371.5,25.61 L372.5,25.21 L373.5,24.85 L374.5,24.56 L375.5,24.33 L376.5,24.19 L377.5,24.14 L378.5,24.19 L379.5,24.28 L380.5,24.43 L381.5,24.65 L382.5,24.96 L383.5,25.37 L384.5,25.80 L385.5,26.31 L386.5,26.97 L387.5,27.65 L388.5,28.41 L389.5,29.66 L390.5,31.51 L391.5,33.50 L392.5,35.61 L393.5,37.81 L394.5,40.12 L395.5,42.51 L396.5,45.00 L397.5,47.56 L398.5,50.21 L399.5,52.92 L400.5,55.70 L401.5,58.55 L402.5,61.45 L403.5,64.39 L404.5,67.39 L405.5,70.43 L406.5,73.50 L407.5,76.60 L408.5,79.72 L409.5,82.87 L410.5,86.02 L411.5,89.19 L411.8,90.14" stroke="#006400" stroke-dasharray="1.2 1.8"/>
<path d="M52.5,229.34 L53.5,229.35 L54.5,229.35 L55.5,229.35 L56.5,229.35 L57.5,229.36 L58.5,229.36 L59.5,229.36 L60.5,229.36 L61.5,229.36 L62.5,229.36 L63.5,229.36 L64.5,229.36 L65.5,229.36 L66.5,229.36 L67.5,229.36 L68.5,229.36 L69.5,229.35 L70.5,229.35 L71.5,229.35 L72.5,229.35 L73.5,229.34 L74.5,229.34 L75.5,229.33 L76.5,229.33 L77.5,229.32 L78.5,229.32 L79.5,229.31 L80.5,229.31 L81.5,229.30 L82.5,229.29 L83.5,229.28 L84.5,229.28 L85.5,229.27 L86.5,229.26 L87.5,229.25 L88.5,229.24 L89.5,229.23 L90.5,229.22 L91.5,229.21 L92.5,229.20 L93.5,229.18 L94.5,229.17 L95.5,229.16 L96.5,229.15 L97.5,229.13 L98.5,229.12 L99.5,229.10 L100.5,229.09 L101.5,229.07 L102.5,229.06 L103.5,229.04 L104.5,229.02 L105.5,229.00 L106.5,228.99 L107.5,228.97 L108.5,228.95 L109.5,228.93 L110.5,228.91 L111.5,228.89 L112.5,228.87 L113.5,228.85 L114.5,228.82 L115.5,228.80 L116.5,228.78 L117.5,228.75 L118.5,228.73 L119.5,228.70 L120.5,228.68 L121.5,228.65 L122.5,228.63 L123.5,228.60 L124.5,228.57 L125.5,228.54 L126.5,228.51 L127.5,228.49 L128.5,228.46 L129.5,228.43 L130.5,228.39 L131.5,228.36 L132.5,228.33 L133.5,228.30 L134.5,228.26 L135.5,228.23 L136.5,228.20 L137.5,228.16 L138.5,228.13 L139.5,228.09 L140.5,228.05 L141.5,228.01 L142.5,227.98 L143.5,227.94 L144.5,227.90 L145.5,227.86 L146.5,227.82 L147.5,227.78 L148.5,227.73 L149.5,227.69 L150.5,227.65 L151.5,227.61 L152.5,227.56 L153.5,227.52 L154.5,227.47 L155.5,227.42 L156.5,227.38 L157.5,227.33 L158.5,227.28 L159.5,227.23 L160.5,227.18 L161.5,227.13 L162.5,227.08 L163.5,227.03 L164.5,226.98 L165.5,226.92 L166.5,226.87 L167.5,226.81 L168.5,226.76 L169.5,226.70 L170.5,226.65 L171.5,226.59 L172.5,226.53 L173.5,226.47 L174.5,226.41 L175.5,226.35 L176.5,226.29 L177.5,226.23 L178.5,226.17 L179.5,226.10 L180.5,226.04 L181.5,225.97 L182.5,225.91 L183.5,225.84 L184.5,225.78 L185.5,225.71 L186.5,225.64 L187.5,225.57 L188.5,225.50 L189.5,225.43 L190.5,225.36 L191.5,225.29 L192.5,225.21 L193.5,225.14 L194.5,225.06 L195.5,224.99 L196.5,224.91 L197.5,224.84 L198.5,224.76 L199.5,224.68 L200.5,224.60 L201.5,224.53 L202.5,224.45 L203.5,224.37 L204.5,224.29 L205.5,224.21 L206.5,224.12 L207.5,224.04 L208.5,223.96 L209.5,223.88 L210.5,223.79 L211.5,223.71 L212.5,223.63 L213.5,223.54 L214.5,223.46 L215.5,223.38 L216.5,223.29 L217.5,223.21 L218.5,223.12 L219.5,223.04 L220.5,222.95 L221.5,222.87 L222.5,222.78 L223.5,222.70 L224.5,222.61 L225.5,222.52 L226.5,222.44 L227.5,222.35 L228.5,222.27 L229.5,222.18 L230.5,222.10 L231.5,222.01 L232.5,221.93 L233.5,221.84 L234.5,221.75 L235.5,221.67 L236.5,221.58 L237.5,221.49 L238.5,221.40 L239.5,221.31 L240.5,221.21 L241.5,221.12 L242.5,221.02 L243.5,220.93 L244.5,220.83 L245.5,220.72 L246.5,220.62 L247.5,220.51 L248.5,220.40 L249.5,220.29 L250.5,220.17 L251.5,220.05 L252.5,219.93 L253.5,219.80 L254.5,219.67 L255.5,219.53 L256.5,219.40 L257.5,219.25 L258.5,219.11 L259.5,218.95 L260.5,218.80 L261.5,218.64 L262.5,218.47 L263.5,218.30 L264.5,218.12 L265.5,217.94 L266.5,217.75 L267.5,217.56 L268.5,217.35 L269.5,217.15 L270.5,216.94 L271.5,216.72 L272.5,216.49 L273.5,216.26 L274.5,216.02 L275.5,215.78 L276.5,215.53 L277.5,215.28 L278.5,215.02 L279.5,214.76 L280.5,214.49 L281.5,214.22 L282.5,213.94 L283.5,213.66 L284.5,213.37 L285.5,213.09 L286.5,212.79 L287.5,212.50 L288.5,212.20 L289.5,211.90 L290.5,211.60 L291.5,211.29 L292.5,210.98 L293.5,210.67 L294.5,210.35 L295.5,210.04 L296.5,209.72 L297.5,209.40 L298.5,209.08 L299.5,208.76 L300.5,208.43 L301.5,208.10 L302.5,207.78 L303.5,207.45 L304.5,207.12 L305.5,206.79 L306.5,206.46 L307.5,206.13 L308.5,205.79 L309.5,205.46 L310.5,205.13 L311.5,204.79 L312.5,204.46 L313.5,204.12 L314.5,203.78 L315.5,203.44 L316.5,203.10 L317.5,202.75 L318.5,202.40 L319.5,202.05 L320.5,201.70 L321.5,201.35 L322.5,201.01 L323.5,200.66 L324.5,200.32 L325.5,199.98 L326.5,199.64 L327.5,199.29 L328.5,198.95 L329.5,198.60 L330.5,198.25 L331.5,197.89 L332.5,197.53 L333.5,197.16 L334.5,196.79 L335.5,196.40 L336.5,196.01 L337.5,195.61 L338.5,195.19 L339.5,194.77 L340.5,194.33 L341.5,193.89 L342.5,193.43 L343.5,192.98 L344.5,192.52 L345.5,192.05 L346.5,191.57 L347.5,191.10 L348.5,190.61 L349.5,190.13 L350.5,189.64 L351.5,189.14 L352.5,188.64 L353.5,188.13 L354.5,187.61 L355.5,187.08 L356.5,186.54 L357.5,185.98 L358.5,185.40 L359.5,184.80 L360.5,184.19 L361.5,183.56 L362.5,182.92 L363.5,182.26 L364.5,181.60 L365.5,180.92 L366.5,180.24 L367.5,179.56 L368.5,178.87 L369.5,178.18 L370.5,177.49 L371.5,176.80 L372.5,176.11 L373.5,175.43 L374.5,174.76 L375.5,174.09 L376.5,173.43 L377.5,172.79 L378.5,172.16 L379.5,171.54 L380.5,170.94 L381.5,170.35 L382.5,169.76 L383.5,169.19 L384.5,168.64 L385.5,168.09 L386.5,167.56 L387.5,167.04 L388.5,166.54 L389.5,166.05 L390.5,165.58 L391.5,165.13 L392.5,164.69 L393.5,164.27 L394.5,163.87 L395.5,163.48 L396.5,163.10 L397.5,162.73 L398.5,162.37 L399.5,162.03 L400.5,161.71 L401.5,161.42 L402.5,161.16 L403.5,160.93 L404.5,160.74 L405.5,160.59 L406.5,160.46 L407.5,160.36 L408.5,160.28 L409.5,160.22 L410.5,160.18 L411.5,160.16 L411.8,160.16" stroke="#ffc0cb"/>
<path d="M52.5,256.60 L53.5,256.60 L54.5,256.59 L55.5,256.59 L56.5,256.58 L57.5,256.58 L58.5,256.57 L59.5,256.57 L60.5,256.56 L61.5,256.56 L62.5,256.55 L63.5,256.55 L64.5,256.54 L65.5,256.53 L66.5,256.53 L67.5,256.52 L68.5,256.51 L69.5,256.50 L70.5,256.50 L71.5,256.49 L72.5,256.48 L73.5,256.47 L74.5,256.46 L75.5,256.45 L76.5,256.44 L77.5,256.43 L78.5,256.42 L79.5,256.41 L80.5,256.40 L81.5,256.39 L82.5,256.38 L83.5,256.37 L84.5,256.36 L85.5,256.34 L86.5,256.33 L87.5,256.32 L88.5,256.31 L89.5,256.29 L90.5,256.28 L91.5,256.27 L92.5,256.25 L93.5,256.24 L94.5,256.22 L95.5,256.21 L96.5,256.19 L97.5,256.18 L98.5,256.16 L99.5,256.14 L100.5,256.13 L101.5,256.11 L102.5,256.09 L103.5,256.07 L104.5,256.06 L105.5,256.04 L106.5,256.02 L107.5,256.00 L108.5,255.98 L109.5,255.96 L110.5,255.94 L111.5,255.92 L112.5,255.90 L113.5,255.88 L114.5,255.86 L115.5,255.84 L116.5,255.81 L117.5,255.79 L118.5,255.77 L119.5,255.75 L120.5,255.73 L121.5,255.70 L122.5,255.68 L123.5,255.66 L124.5,255.63 L125.5,255.61 L126.5,255.58 L127.5,255.56 L128.5,255.53 L129.5,255.50 L130.5,255.48 L131.5,255.45 L132.5,255.42 L133.5,255.40 L134.5,255.37 L135.5,255.34 L136.5,255.31 L137.5,255.28 L138.5,255.25 L139.5,255.22 L140.5,255.19 L141.5,255.16 L142.5,255.12 L143.5,255.09 L144.5,255.06 L145.5,255.02 L146.5,254.99 L147.5,254.95 L148.5,254.92 L149.5,254.88 L150.5,254.84 L151.5,254.81 L152.5,254.77 L153.5,254.73 L154.5,254.69 L155.5,254.65 L156.5,254.61 L157.5,254.57 L158.5,254.52 L159.5,254.48 L160.5,254.43 L161.5,254.39 L162.5,254.34 L163.5,254.30 L164.5,254.25 L165.5,254.20 L166.5,254.15 L167.5,254.10 L168.5,254.05 L169.5,254.00 L170.5,253.95 L171.5,253.90 L172.5,253.84 L173.5,253.79 L174.5,253.73 L175.5,253.68 L176.5,253.62 L177.5,253.56 L178.5,253.50 L179.5,253.44 L180.5,253.38 L181.5,253.32 L182.5,253.25 L183.5,253.19 L184.5,253.12 L185.5,253.06 L186.5,252.99 L187.5,252.92 L188.5,252.85 L189.5,252.78 L190.5,252.71 L191.5,252.64 L192.5,252.56 L193.5,252.49 L194.5,252.42 L195.5,252.34 L196.5,252.26 L197.5,252.19 L198.5,252.11 L199.5,252.03 L200.5,251.95 L201.5,251.87 L202.5,251.79 L203.5,251.71 L204.5,251.63 L205.5,251.54 L206.5,251.46 L207.5,251.38 L208.5,251.29 L209.5,251.21 L210.5,251.12 L211.5,251.04 L212.5,250.95 L213.5,250.86 L214.5,250.78 L215.5,250.69 L216.5,250.60 L217.5,250.51 L218.5,250.43 L219.5,250.34 L220.5,250.25 L221.5,250.16 L222.5,250.07 L223.5,249.98 L224.5,249.89 L225.5,249.80 L226.5,249.72 L227.5,249.63 L228.5,249.54 L229.5,249.45 L230.5,249.36 L231.5,249.27 L232.5,249.18 L233.5,249.09 L234.5,249.00 L235.5,248.90 L236.5,248.81 L237.5,248.71 L238.5,248.61 L239.5,248.51 L240.5,248.41 L241.5,248.30 L242.5,248.19 L243.5,248.08 L244.5,247.97 L245.5,247.85 L246.5,247.73 L247.5,247.60 L248.5,247.48 L249.5,247.35 L250.5,247.21 L251.5,247.07 L252.5,246.93 L253.5,246.78 L254.5,246.63 L255.5,246.48 L256.5,246.32 L257.5,246.15 L258.5,245.99 L259.5,245.81 L260.5,245.63 L261.5,245.45 L262.5,245.26 L263.5,245.06 L264.5,244.86 L265.5,244.65 L266.5,244.44 L267.5,244.22 L268.5,244.00 L269.5,243.76 L270.5,243.53 L271.5,243.28 L272.5,243.03 L273.5,242.77 L274.5,242.51 L275.5,242.23 L276.5,241.96 L277.5,241.67 L278.5,241.38 L279.5,241.08 L280.5,240.78 L281.5,240.47 L282.5,240.15 L283.5,239.83 L284.5,239.51 L285.5,239.17 L286.5,238.85 L287.5,238.53 L288.5,238.21 L289.5,237.90 L290.5,237.59 L291.5,237.28 L292.5,236.98 L293.5,236.67 L294.5,236.36 L295.5,236.04 L296.5,235.70 L297.5,235.35 L298.5,234.98 L299.5,234.59 L300.5,234.19 L301.5,233.78 L302.5,233.36 L303.5,232.93 L304.5,232.49 L305.5,232.04 L306.5,231.58 L307.5,231.12 L308.5,230.66 L309.5,230.19 L310.5,229.72 L311.5,229.24 L312.5,228.76 L313.5,228.27 L314.5,227.77 L315.5,227.27 L316.5,226.76 L317.5,226.25 L318.5,225.73 L319.5,225.20 L320.5,224.67 L321.5,224.13 L322.5,223.59 L323.5,223.03 L324.5,222.47 L325.5,221.91 L326.5,221.33 L327.5,220.76 L328.5,220.17 L329.5,219.58 L330.5,218.99 L331.5,218.38 L332.5,217.78 L333.5,217.16 L334.5,216.54 L335.5,215.90 L336.5,215.27 L337.5,214.62 L338.5,213.96 L339.5,213.30 L340.5,212.62 L341.5,211.94 L342.5,211.25 L343.5,210.55 L344.5,209.84 L345.5,209.13 L346.5,208.40 L347.5,207.67 L348.5,206.94 L349.5,206.19 L350.5,205.44 L351.5,204.68 L352.5,203.91 L353.5,203.12 L354.5,202.32 L355.5,201.50 L356.5,200.66 L357.5,199.80 L358.5,198.93 L359.5,198.03 L360.5,197.12 L361.5,196.19 L362.5,195.25 L363.5,194.29 L364.5,193.33 L365.5,192.35 L366.5,191.38 L367.5,190.40 L368.5,189.42 L369.5,188.45 L370.5,187.48 L371.5,186.52 L372.5,185.57 L373.5,184.63 L374.5,183.69 L375.5,182.76 L376.5,181.85 L377.5,180.94 L378.5,180.05 L379.5,179.17 L380.5,178.30 L381.5,177.44 L382.5,176.59 L383.5,175.75 L384.5,174.91 L385.5,174.09 L386.5,173.27 L387.5,172.44 L388.5,171.56 L389.5,170.62 L390.5,169.67 L391.5,168.71 L392.5,167.78 L393.5,166.88 L394.5,166.03 L395.5,165.28 L396.5,164.60 L397.5,163.94 L398.5,163.29 L399.5,162.67 L400.5,162.11 L401.5,161.61 L402.5,161.21 L403.5,160.92 L404.5,160.74 L405.5,160.59 L406.5,160.46 L407.5,160.36 L408.5,160.28 L409.5,160.22 L410.5,160.18 L411.5,160.16 L411.8,160.16" stroke="#ffc0cb" stroke-dasharray="2.6 1"/>
<path d="M52.5,250.80 L53.5,250.81 L54.5,250.81 L55.5,250.82 L56.5,250.83 L57.5,250.84 L58.5,250.84 L59.5,250.85 L60.5,250.86 L61.5,250.86 L62.5,250.87 L63.5,250.88 L64.5,250.88 L65.5,250.89 L66.5,250.89 L67.5,250.90 L68.5,250.91 L69.5,250.91 L70.5,250.92 L71.5,250.92 L72.5,250.93 L73.5,250.93 L74.5,250.94 L75.5,250.94 L76.5,250.95 L77.5,250.95 L78.5,250.95 L79.5,250.96 L80.5,250.96 L81.5,250.96 L82.5,250.97 L83.5,250.97 L84.5,250.97 L85.5,250.98 L86.5,250.98 L87.5,250.98 L88.5,250.98 L89.5,250.98 L90.5,250.98 L91.5,250.98 L92.5,250.98 L93.5,250.98 L94.5,250.98 L95.5,250.98 L96.5,250.98 L97.5,250.98 L98.5,250.98 L99.5,250.97 L100.5,250.97 L101.5,250.97 L102.5,250.96 L103.5,250.96 L104.5,250.96 L105.5,250.95 L106.5,250.95 L107.5,250.94 L108.5,250.94 L109.5,250.93 L110.5,250.92 L111.5,250.92 L112.5,250.91 L113.5,250.90 L114.5,250.89 L115.5,250.88 L116.5,250.88 L117.5,250.87 L118.5,250.86 L119.5,250.85 L120.5,250.84 L121.5,250.83 L122.5,250.82 L123.5,250.81 L124.5,250.80 L125.5,250.79 L126.5,250.78 L127.5,250.77 L128.5,250.76 L129.5,250.74 L130.5,250.73 L131.5,250.72 L132.5,250.71 L133.5,250.69 L134.5,250.68 L135.5,250.67 L136.5,250.65 L137.5,250.64 L138.5,250.62 L139.5,250.61 L140.5,250.59 L141.5,250.58 L142.5,250.56 L143.5,250.54 L144.5,250.53 L145.5,250.51 L146.5,250.49 L147.5,250.47 L148.5,250.45 L149.5,250.44 L150.5,250.42 L151.5,250.40 L152.5,250.38 L153.5,250.36 L154.5,250.34 L155.5,250.31 L156.5,250.29 L157.5,250.27 L158.5,250.25 L159.5,250.22 L160.5,250.20 L161.5,250.18 L162.5,250.15 L163.5,250.13 L164.5,250.10 L165.5,250.08 L166.5,250.05 L167.5,250.03 L168.5,250.00 L169.5,249.97 L170.5,249.94 L171.5,249.91 L172.5,249.89 L173.5,249.86 L174.5,249.83 L175.5,249.80 L176.5,249.76 L177.5,249.73 L178.5,249.70 L179.5,249.67 L180.5,249.64 L181.5,249.60 L182.5,249.57 L183.5,249.53 L184.5,249.50 L185.5,249.46 L186.5,249.43 L187.5,249.39 L188.5,249.35 L189.5,249.32 L190.5,249.28 L191.5,249.24 L192.5,249.20 L193.5,249.17 L194.5,249.13 L195.5,249.10 L196.5,249.06 L197.5,249.03 L198.5,249.00 L199.5,248.96 L200.5,248.93 L201.5,248.90 L202.5,248.87 L203.5,248.84 L204.5,248.81 L205.5,248.78 L206.5,248.75 L207.5,248.72 L208.5,248.69 L209.5,248.66 L210.5,248.63 L211.5,248.60 L212.5,248.57 L213.5,248.54 L214.5,248.51 L215.5,248.48 L216.5,248.45 L217.5,248.42 L218.5,248.39 L219.5,248.36 L220.5,248.33 L221.5,248.30 L222.5,248.27 L223.5,248.24 L224.5,248.21 L225.5,248.17 L226.5,248.14 L227.5,248.11 L228.5,248.07 L229.5,248.04 L230.5,248.00 L231.5,247.96 L232.5,247.93 L233.5,247.89 L234.5,247.85 L235.5,247.81 L236.5,247.76 L237.5,247.72 L238.5,247.67 L239.5,247.62 L240.5,247.57 L241.5,247.52 L242.5,247.46 L243.5,247.41 L244.5,247.35 L245.5,247.29 L246.5,247.22 L247.5,247.16 L248.5,247.09 L249.5,247.01 L250.5,246.94 L251.5,246.86 L252.5,246.78 L253.5,246.69 L254.5,246.60 L255.5,246.51 L256.5,246.42 L257.5,246.32 L258.5,246.22 L259.5,246.11 L260.5,246.00 L261.5,245.89 L262.5,245.77 L263.5,245.65 L264.5,245.52 L265.5,245.39 L266.5,245.26 L267.5,245.12 L268.5,244.97 L269.5,244.82 L270.5,244.67 L271.5,244.51 L272.5,244.35 L273.5,244.19 L274.5,244.03 L275.5,243.86 L276.5,243.69 L277.5,243.52 L278.5,243.35 L279.5,243.17 L280.5,242.98 L281.5,242.80 L282.5,242.61 L283.5,242.42 L284.5,242.22 L285.5,242.02 L286.5,241.81 L287.5,241.61 L288.5,241.39 L289.5,241.18 L290.5,240.96 L291.5,240.74 L292.5,240.53 L293.5,240.33 L294.5,240.14 L295.5,239.95 L296.5,239.77 L297.5,239.60 L298.5,239.43 L299.5,239.27 L300.5,239.11 L301.5,238.96 L302.5,238.80 L303.5,238.64 L304.5,238.48 L305.5,238.32 L306.5,238.14 L307.5,237.96 L308.5,237.77 L309.5,237.57 L310.5,237.36 L311.5,237.13 L312.5,236.88 L313.5,236.61 L314.5,236.32 L315.5,236.01 L316.5,235.68 L317.5,235.32 L318.5,234.92 L319.5,234.47 L320.5,234.00 L321.5,233.51 L322.5,233.00 L323.5,232.48 L324.5,231.95 L325.5,231.44 L326.5,230.93 L327.5,230.41 L328.5,229.88 L329.5,229.34 L330.5,228.79 L331.5,228.23 L332.5,227.65 L333.5,227.07 L334.5,226.47 L335.5,225.86 L336.5,225.24 L337.5,224.61 L338.5,223.96 L339.5,223.30 L340.5,222.63 L341.5,221.95 L342.5,221.25 L343.5,220.55 L344.5,219.83 L345.5,219.10 L346.5,218.36 L347.5,217.61 L348.5,216.85 L349.5,216.09 L350.5,215.29 L351.5,214.36 L352.5,213.31 L353.5,212.17 L354.5,210.97 L355.5,209.74 L356.5,208.53 L357.5,207.35 L358.5,206.26 L359.5,205.23 L360.5,204.21 L361.5,203.20 L362.5,202.19 L363.5,201.19 L364.5,200.20 L365.5,199.21 L366.5,198.23 L367.5,197.26 L368.5,196.28 L369.5,195.30 L370.5,194.32 L371.5,193.33 L372.5,192.33 L373.5,191.32 L374.5,190.30 L375.5,189.26 L376.5,188.20 L377.5,187.12 L378.5,186.04 L379.5,184.95 L380.5,183.85 L381.5,182.76 L382.5,181.66 L383.5,180.57 L384.5,179.48 L385.5,178.40 L386.5,177.32 L387.5,176.25 L388.5,175.19 L389.5,174.14 L390.5,173.10 L391.5,172.08 L392.5,171.06 L393.5,170.00 L394.5,168.90 L395.5,167.78 L396.5,166.69 L397.5,165.65 L398.5,164.71 L399.5,163.89 L400.5,163.19 L401.5,162.53 L402.5,161.93 L403.5,161.40 L404.5,160.96 L405.5,160.65 L406.5,160.48 L407.5,160.36 L408.5,160.28 L409.5,160.22 L410.5,160.18 L411.5,160.16 L411.8,160.16" stroke="#ffc0cb" stroke-dasharray="1.2 1.8"/>
</g>
<g stroke="#000" stroke-width="1" fill="none">
<rect x="52.5" y="13" width="359.5" height="252.7"/>
</g>
<g stroke="#000" stroke-width="1.2" fill="none">
<path d="M97.5,21.8H127"/>
<path d="M97.5,32.6H127" stroke-dasharray="2.6 1"/>
<path d="M97.5,43.4H127" stroke-dasharray="1.2 1.8"/>
</g>
<g font-size="10.7px">
<g transform="rotate(0.03)">
<text x="45.8" y="23.7" text-anchor="end">2</text>
<text x="45.8" y="93.9" text-anchor="end">1</text>
<text x="45.8" y="164.0" text-anchor="end">0</text>
<text x="45.8" y="234.3" text-anchor="end">-1</text>
<text x="53.5" y="279.8" text-anchor="middle">0</text>
<text x="233.5" y="279.7" text-anchor="middle">0.5</text>
<text x="413" y="279.6" text-anchor="middle">1</text>
<text x="232.3" y="295.5" text-anchor="middle">x</text>
<text x="66" y="25.3">λ=0.5</text>
<text x="66" y="36.0">λ=1.0</text>
<text x="66" y="46.7">λ=1.5</text>
</g>
<text transform="translate(24.5,139.2) rotate(-90)" text-anchor="middle">functions</text>
</g>
<g font-size="9.5px">
<text x="264.7" y="71.9" transform="rotate(0.03)">ω(x)+1</text>
<text transform="translate(374.1,67.3) rotate(-41)" text-anchor="middle" dy="3">2 m(x)</text>
<text transform="translate(347,115.3) rotate(-22)" text-anchor="middle" dy="3">n(x)</text>
<text transform="translate(346.3,146.2) rotate(-27)" text-anchor="middle" dy="3">f(x)</text>
<text x="340" y="232.7" transform="rotate(0.03)">a<tspan font-size="8.4px" dy="3">φ</tspan><tspan dy="-3" dx="0.6">(x)</tspan></text>
</g>
</svg>
</body></html>
